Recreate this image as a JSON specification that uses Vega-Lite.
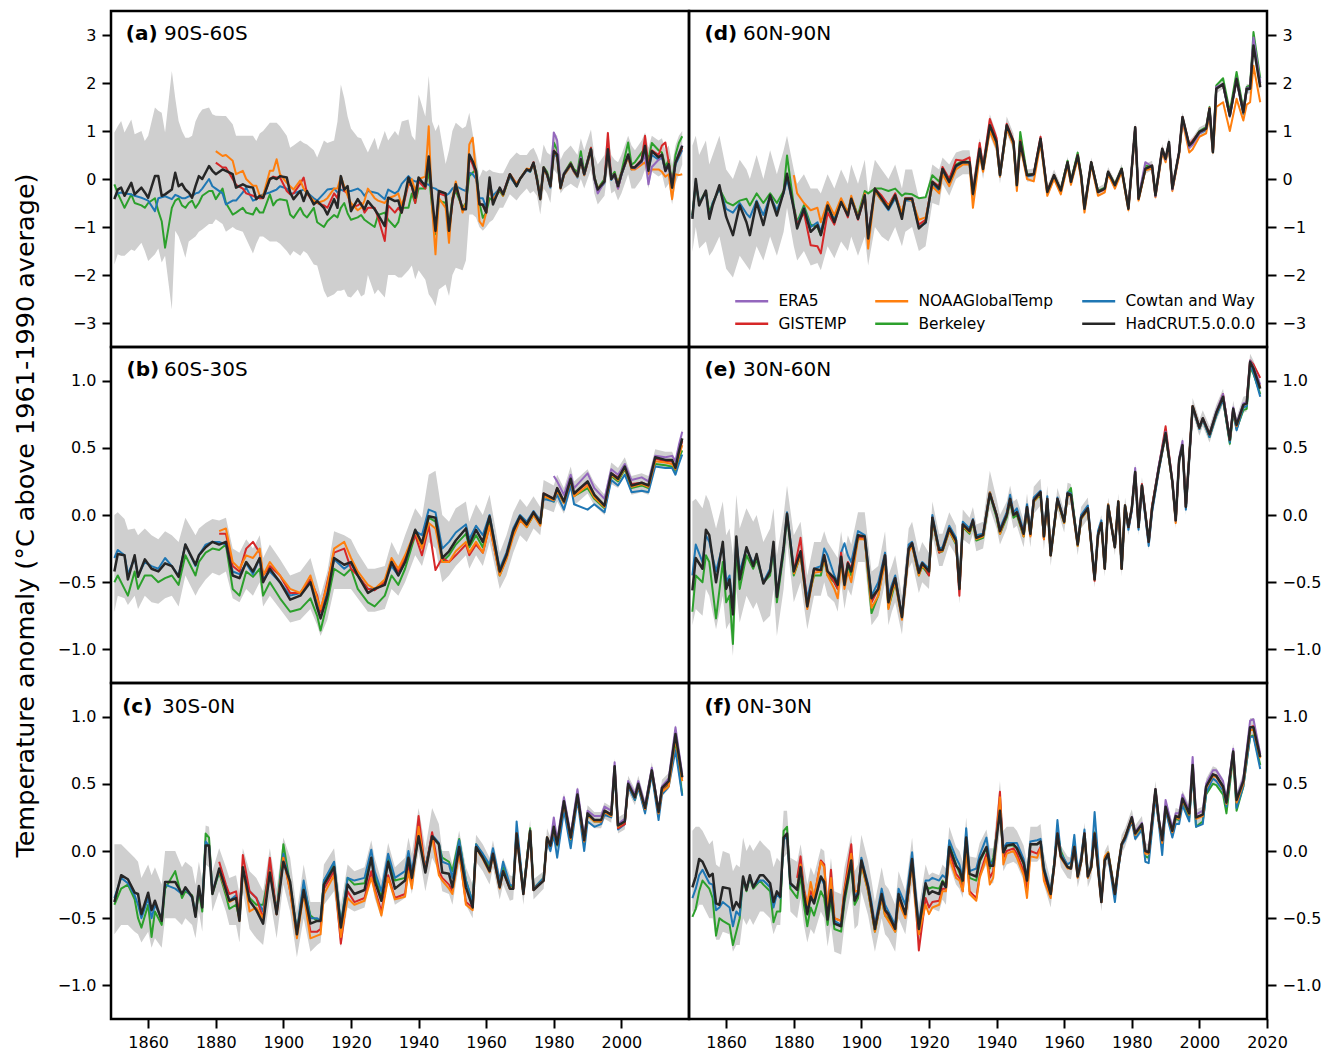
{
"$schema":"https://vega.github.io/schema/vega-lite/v6.json",
"background":"white",
"padding":{"left":11,"top":9,"right":5,"bottom":2},
"config":{"font":"DejaVu Sans","view":{"stroke":"black","strokeWidth":2.5},
"axis":{"domain":false,"grid":false,"tickColor":"black","tickWidth":2,"tickSize":9,"labelColor":"black","labelFontSize":16,"labelFont":"DejaVu Sans","labelPadding":6,"labelFlush":false,"labelOverlap":false,"titleColor":"black","titleFont":"DejaVu Sans"},
"area":{"color":"#cfcfcf"},"line":{"strokeJoin":"round"},
"text":{"font":"DejaVu Sans","align":"left","baseline":"alphabetic","fontSize":20,"color":"black"}},
"datasets":{
"a":[
{"y":1850,"B":-0.11,"C":-0.39,"H":-0.42,"l":-1.78,"u":0.97},
{"y":1851,"B":-0.3,"C":-0.3,"H":-0.22,"l":-1.57,"u":1.1},
{"y":1852,"B":-0.45,"C":-0.28,"H":-0.18,"l":-1.6,"u":1.21},
{"y":1853,"B":-0.6,"C":-0.3,"H":-0.35,"l":-1.6,"u":0.97},
{"y":1855,"B":-0.32,"C":-0.32,"H":-0.08,"l":-1.47,"u":1.24},
{"y":1856,"B":-0.5,"C":-0.35,"H":-0.32,"l":-1.5,"u":0.93},
{"y":1858,"B":-0.55,"C":-0.39,"H":-0.18,"l":-1.33,"u":1},
{"y":1859,"B":-0.6,"C":-0.42,"H":-0.28,"l":-1.5,"u":0.79},
{"y":1860,"B":-0.5,"C":-0.45,"H":-0.39,"l":-1.71,"u":0.9},
{"y":1862,"B":-0.4,"C":-0.67,"H":0.06,"l":-1.57,"u":1.49},
{"y":1863,"B":-0.67,"C":-0.4,"H":0.06,"l":-1.45,"u":1.42},
{"y":1864,"B":-0.88,"C":-0.38,"H":-0.35,"l":-1.74,"u":1.38},
{"y":1865,"B":-1.43,"C":-0.36,"H":-0.32,"l":-1.6,"u":0.97},
{"y":1867,"B":-0.6,"C":-0.42,"H":-0.22,"l":-2.72,"u":2.25},
{"y":1868,"B":-0.45,"C":-0.33,"H":0.13,"l":-1.08,"u":1.69},
{"y":1869,"B":-0.4,"C":-0.36,"H":-0.15,"l":-1.2,"u":1.21},
{"y":1870,"B":-0.55,"C":-0.4,"H":-0.1,"l":-1.4,"u":1},
{"y":1871,"B":-0.6,"C":-0.4,"H":-0.22,"l":-1.64,"u":0.86},
{"y":1872,"B":-0.5,"C":-0.36,"H":-0.28,"l":-1.3,"u":0.86},
{"y":1873,"B":-0.45,"C":-0.36,"H":-0.39,"l":-1.25,"u":0.9},
{"y":1874,"B":-0.6,"C":-0.3,"H":-0.15,"l":-1.2,"u":1.2},
{"y":1875,"B":-0.5,"C":-0.28,"H":0.06,"l":-1.1,"u":1.35},
{"y":1876,"B":-0.35,"C":-0.2,"H":0,"l":-1.05,"u":1.45},
{"y":1878,"B":-0.25,"C":0,"H":0.27,"l":-0.94,"u":1.49},
{"y":1879,"B":-0.25,"C":-0.15,"H":0.17,"l":-0.94,"u":1.35},
{"y":1880,"B":-0.42,"C":-0.2,"G":0.34,"N":0.58,"H":0.1,"l":-0.84,"u":1.32},
{"y":1882,"B":-0.2,"C":-0.3,"G":0.24,"N":0.48,"H":0.2,"l":-0.94,"u":1.31},
{"y":1883,"B":-0.5,"C":-0.53,"G":0.24,"N":0.5,"H":0.17,"l":-1.1,"u":1.31},
{"y":1885,"B":-0.74,"C":-0.45,"G":0,"N":0.38,"H":0.1,"l":-1,"u":1.14},
{"y":1886,"B":-0.7,"C":-0.45,"G":-0.12,"N":0.1,"H":-0.18,"l":-1.05,"u":0.9},
{"y":1888,"B":-0.6,"C":-0.28,"G":-0.2,"N":0.17,"H":-0.11,"l":-1.1,"u":0.9},
{"y":1889,"B":-0.7,"C":-0.18,"G":-0.3,"N":0,"H":-0.15,"l":-1.25,"u":0.9},
{"y":1891,"B":-0.74,"C":-0.45,"G":-0.35,"N":-0.14,"H":-0.18,"l":-1.55,"u":0.9},
{"y":1892,"B":-0.6,"C":-0.42,"G":-0.38,"N":-0.14,"H":-0.42,"l":-1.35,"u":0.79},
{"y":1893,"B":-0.7,"C":-0.35,"G":-0.4,"N":-0.35,"H":-0.35,"l":-1.2,"u":0.95},
{"y":1894,"B":-0.7,"C":-0.32,"G":-0.4,"N":-0.35,"H":-0.39,"l":-1.2,"u":1},
{"y":1896,"B":-0.32,"C":-0.28,"G":0,"N":0.17,"H":0,"l":-1.3,"u":1.17},
{"y":1897,"B":-0.55,"C":-0.25,"G":0.05,"N":0.17,"H":0.03,"l":-1.3,"u":1.17},
{"y":1898,"B":-0.45,"C":-0.22,"G":0.03,"N":0.41,"H":0,"l":-1.3,"u":1.17},
{"y":1899,"B":-0.42,"C":-0.15,"G":0.03,"N":0.1,"H":0.06,"l":-1.35,"u":1.1},
{"y":1901,"B":-0.45,"C":-0.2,"G":-0.25,"N":-0.08,"H":0.03,"l":-1.5,"u":0.9},
{"y":1902,"B":-0.74,"C":-0.3,"G":-0.32,"N":-0.15,"H":-0.28,"l":-1.6,"u":0.65},
{"y":1903,"B":-0.81,"C":-0.3,"G":-0.3,"N":-0.22,"H":-0.42,"l":-1.5,"u":0.7},
{"y":1905,"B":-0.6,"C":-0.25,"G":-0.1,"N":-0.03,"H":-0.25,"l":-1.6,"u":0.8},
{"y":1906,"B":-0.74,"C":-0.22,"G":0.03,"N":-0.2,"H":-0.46,"l":-1.5,"u":0.75},
{"y":1907,"B":-0.8,"C":-0.28,"G":-0.3,"N":-0.3,"H":-0.25,"l":-1.55,"u":0.72},
{"y":1909,"B":-0.6,"C":-0.4,"G":-0.5,"N":-0.45,"H":-0.53,"l":-1.78,"u":0.6},
{"y":1910,"B":-0.9,"C":-0.45,"G":-0.5,"N":-0.5,"H":-0.46,"l":-1.8,"u":0.45},
{"y":1912,"B":-1,"C":-0.3,"G":-0.55,"N":-0.45,"H":-0.6,"l":-2.33,"u":0.8},
{"y":1913,"B":-0.88,"C":-0.22,"G":-0.6,"N":-0.4,"H":-0.74,"l":-2.47,"u":0.75},
{"y":1915,"B":-0.75,"C":-0.2,"G":-0.3,"N":-0.2,"H":-0.42,"l":-2.4,"u":0.8},
{"y":1916,"B":-0.8,"C":-0.28,"G":-0.4,"N":-0.2,"H":-0.6,"l":-2.33,"u":1.2},
{"y":1917,"B":-0.6,"C":-0.22,"G":0,"N":0.05,"H":0.06,"l":-2.33,"u":1.97},
{"y":1918,"B":-0.5,"C":-0.25,"G":-0.25,"N":-0.15,"H":-0.22,"l":-2.3,"u":1.69},
{"y":1919,"B":-0.72,"C":-0.25,"G":-0.3,"N":-0.35,"H":-0.15,"l":-2.45,"u":1.3},
{"y":1920,"B":-0.85,"C":-0.25,"G":-0.6,"N":-0.5,"H":-0.67,"l":-2.47,"u":1.05},
{"y":1922,"B":-0.8,"C":-0.2,"G":-0.55,"N":-0.65,"H":-0.42,"l":-2.3,"u":0.87},
{"y":1923,"B":-0.75,"C":-0.25,"G":-0.5,"N":-0.6,"H":-0.53,"l":-2.45,"u":0.85},
{"y":1924,"B":-0.85,"C":-0.35,"G":-0.7,"N":-0.45,"H":-0.63,"l":-2.4,"u":0.7},
{"y":1925,"B":-0.9,"C":-0.25,"G":-0.6,"N":-0.2,"H":-0.46,"l":-2,"u":0.55},
{"y":1927,"B":-1,"C":-0.28,"G":-0.6,"N":-0.4,"H":-0.63,"l":-2.4,"u":0.86},
{"y":1928,"B":-0.75,"C":-0.3,"G":-0.8,"N":-0.45,"H":-0.74,"l":-2.3,"u":0.6},
{"y":1930,"B":-0.7,"C":-0.42,"G":-1.29,"N":-0.5,"H":-0.98,"l":-2.47,"u":1},
{"y":1931,"B":-0.85,"C":-0.22,"G":-0.55,"N":-0.4,"H":-0.39,"l":-2,"u":0.8},
{"y":1933,"B":-1,"C":-0.3,"G":-0.7,"N":-0.35,"H":-0.46,"l":-2,"u":1},
{"y":1934,"B":-0.9,"C":-0.25,"G":-0.6,"N":-0.3,"H":-0.45,"l":-2.05,"u":0.9},
{"y":1935,"B":-0.6,"C":-0.1,"G":-0.7,"N":-0.55,"H":-0.7,"l":-2.05,"u":1.2},
{"y":1937,"B":-0.6,"C":0.06,"G":-0.1,"N":-0.1,"H":0.03,"l":-1.9,"u":1.24},
{"y":1938,"B":-0.3,"C":-0.02,"G":-0.15,"N":0,"H":-0.15,"l":-1.8,"u":0.9},
{"y":1939,"B":-0.5,"C":-0.05,"G":-0.5,"N":-0.25,"H":-0.39,"l":-2.09,"u":0.8},
{"y":1940,"B":-0.2,"C":-0.05,"G":-0.05,"N":0,"H":0.03,"l":-1.9,"u":1.76},
{"y":1942,"B":-0.2,"C":-0.1,"G":-0.2,"N":0.05,"H":-0.15,"l":-2.1,"u":1.3},
{"y":1943,"B":0.17,"C":-0.12,"G":0.4,"N":1.1,"H":0.47,"l":-2.4,"u":2.15},
{"y":1944,"B":-0.6,"C":-0.18,"G":-0.45,"N":-0.6,"H":-0.39,"l":-2.5,"u":1.2},
{"y":1945,"B":-1.15,"C":-0.2,"G":-1.1,"N":-1.57,"H":-1.08,"l":-2.65,"u":1},
{"y":1946,"B":-0.45,"C":-0.25,"G":-0.3,"N":-0.4,"H":-0.25,"l":-2.3,"u":1.14},
{"y":1948,"B":-0.5,"C":-0.35,"G":-0.35,"N":-0.6,"H":-0.3,"l":-2.2,"u":0.31},
{"y":1949,"B":-1,"C":-0.3,"G":-1.1,"N":-1.33,"H":-1.08,"l":-2.44,"u":0.6},
{"y":1950,"B":-0.4,"C":-0.2,"G":-0.5,"N":-0.4,"H":-0.46,"l":-2,"u":1},
{"y":1951,"B":-0.25,"C":-0.15,"G":-0.15,"N":-0.05,"H":-0.11,"l":-1.85,"u":1.17},
{"y":1953,"B":-0.6,"C":-0.22,"G":-0.6,"N":-0.7,"H":-0.63,"l":-1.9,"u":1.05},
{"y":1954,"B":-0.5,"C":-0.25,"G":-0.6,"N":-0.5,"H":-0.63,"l":-1.7,"u":1.1},
{"y":1955,"B":0.06,"C":0.13,"G":0.45,"N":0.72,"H":0.51,"l":-0.74,"u":1.38},
{"y":1956,"B":0.13,"C":0.1,"G":0.3,"N":0.86,"H":0.37,"l":-0.74,"u":0.95},
{"y":1957,"B":0.2,"C":0,"G":0.1,"N":0.1,"H":0.17,"l":-0.8,"u":0.5},
{"y":1958,"B":-0.5,"C":-0.4,"G":-0.5,"N":-0.88,"H":-0.53,"l":-1,"u":0.03},
{"y":1959,"B":-0.81,"C":-0.4,"G":-0.55,"N":-0.98,"H":-0.53,"l":-1.08,"u":0.2},
{"y":1960,"B":-0.7,"C":-0.6,"G":-0.7,"N":-0.7,"H":-0.7,"l":-1,"u":0.15},
{"y":1961,"B":-0.4,"C":-0.1,"G":-0.05,"N":-0.1,"H":0.03,"l":-0.9,"u":0.2},
{"y":1962,"B":-0.45,"C":-0.35,"G":-0.5,"N":-0.45,"H":-0.53,"l":-0.85,"u":0.15},
{"y":1964,"B":-0.25,"C":-0.2,"G":-0.2,"N":-0.2,"H":-0.18,"l":-0.6,"u":0.12},
{"y":1965,"B":-0.35,"C":-0.3,"G":-0.3,"N":-0.35,"H":-0.32,"l":-0.6,"u":0.12},
{"y":1967,"B":0.08,"C":0.05,"G":0.1,"N":0.1,"H":0.1,"l":-0.32,"u":0.4},
{"y":1969,"B":-0.15,"C":-0.15,"G":-0.1,"N":-0.1,"H":-0.15,"l":-0.45,"u":0.55},
{"y":1970,"B":0,"C":0,"G":0,"N":0,"H":0,"l":-0.35,"u":0.5},
{"y":1972,"B":0.2,"C":0.18,"G":0.2,"N":0.22,"H":0.2,"l":-0.2,"u":0.5},
{"y":1973,"B":0.15,"C":0.15,"G":0.17,"N":0.2,"H":0.17,"l":-0.3,"u":0.6},
{"y":1974,"B":0.34,"C":0.32,"G":0.35,"N":0.3,"H":0.34,"l":-0.25,"u":0.65},
{"y":1975,"B":0.05,"C":0,"G":0,"N":0,"H":0,"l":-0.35,"u":0.5},
{"y":1976,"B":-0.4,"C":-0.4,"G":-0.4,"N":-0.42,"H":-0.42,"l":-0.74,"u":0.3},
{"y":1977,"B":0.25,"C":0.2,"G":0.24,"N":0.2,"H":0.24,"l":-0.2,"u":0.72},
{"y":1978,"B":0.15,"C":0.08,"G":0.1,"N":0.08,"H":0.1,"l":-0.3,"u":0.55},
{"y":1979,"E":-0.1,"B":-0.1,"C":-0.18,"G":-0.15,"N":-0.15,"H":-0.15,"l":-0.5,"u":0.5},
{"y":1980,"E":0.97,"B":0.76,"C":0.55,"G":0.6,"N":0.55,"H":0.58,"l":0.2,"u":0.97},
{"y":1981,"E":0.8,"B":0.6,"C":0.45,"G":0.5,"N":0.5,"H":0.51,"l":0.1,"u":0.9},
{"y":1982,"E":-0.15,"B":-0.15,"C":-0.2,"G":-0.18,"N":-0.2,"H":-0.18,"l":-0.3,"u":0.4},
{"y":1983,"E":0.12,"B":0.12,"C":0.08,"G":0.1,"N":0.08,"H":0.1,"l":-0.2,"u":0.55},
{"y":1985,"E":0.3,"B":0.35,"C":0.28,"G":0.32,"N":0.28,"H":0.31,"l":-0.1,"u":0.7},
{"y":1986,"E":0.15,"B":0.2,"C":0.15,"G":0.17,"N":0.14,"H":0.17,"l":-0.15,"u":0.6},
{"y":1987,"E":0.1,"B":0.15,"C":0.03,"G":0.1,"N":0.05,"H":0.06,"l":-0.2,"u":0.5},
{"y":1988,"E":0.45,"B":0.58,"C":0.38,"G":0.42,"N":0.38,"H":0.41,"l":0,"u":0.85},
{"y":1989,"E":0.1,"B":0.15,"C":0.08,"G":0.1,"N":0.08,"H":0.1,"l":-0.2,"u":0.6},
{"y":1991,"E":0.62,"B":0.65,"C":0.6,"G":0.65,"N":0.58,"H":0.62,"l":0.2,"u":1.03},
{"y":1992,"E":0,"B":0.05,"C":0,"G":0.03,"N":0,"H":0.03,"l":-0.3,"u":0.5},
{"y":1993,"E":-0.3,"B":-0.2,"C":-0.25,"G":-0.25,"N":-0.2,"H":-0.22,"l":-0.53,"u":0.3},
{"y":1995,"E":-0.05,"B":0,"C":-0.08,"G":-0.05,"N":-0.05,"H":-0.05,"l":-0.35,"u":0.5},
{"y":1996,"E":0.6,"B":0.6,"C":0.6,"G":0.96,"N":0.55,"H":0.62,"l":0.2,"u":1},
{"y":1997,"E":0.05,"B":0.05,"C":-0.02,"G":0,"N":0,"H":0,"l":-0.3,"u":0.5},
{"y":1998,"E":0.1,"B":0.15,"C":0.08,"G":0.1,"N":0.1,"H":0.1,"l":-0.25,"u":0.4},
{"y":1999,"E":-0.2,"B":-0.1,"C":-0.18,"G":-0.2,"N":-0.1,"H":-0.15,"l":-0.45,"u":0.35},
{"y":2000,"E":0.1,"B":0.15,"C":0.08,"G":0.1,"N":0.12,"H":0.1,"l":-0.3,"u":0.5},
{"y":2002,"E":0.5,"B":0.76,"C":0.48,"G":0.5,"N":0.45,"H":0.51,"l":0.1,"u":0.9},
{"y":2003,"E":0.25,"B":0.3,"C":0.2,"G":0.25,"N":0.2,"H":0.24,"l":-0.2,"u":0.7},
{"y":2004,"E":0.22,"B":0.35,"C":0.22,"G":0.25,"N":0.2,"H":0.24,"l":-0.2,"u":0.6},
{"y":2006,"E":0.35,"B":0.55,"C":0.35,"G":0.4,"N":0.3,"H":0.38,"l":0,"u":0.8},
{"y":2007,"E":0.5,"B":0.65,"C":0.6,"G":0.9,"N":0.35,"H":0.69,"l":0.2,"u":0.97},
{"y":2008,"E":-0.11,"B":0.4,"C":0.2,"G":0.25,"N":0.1,"H":0.17,"l":-0.2,"u":0.65},
{"y":2009,"E":0.25,"B":0.75,"C":0.5,"G":0.6,"N":0.2,"H":0.58,"l":0.15,"u":0.9},
{"y":2011,"E":0.4,"B":0.6,"C":0.4,"G":0.5,"N":0.2,"H":0.45,"l":0.05,"u":0.8},
{"y":2012,"E":0.5,"B":0.55,"C":0.45,"G":0.7,"N":0.15,"H":0.51,"l":0.1,"u":0.85},
{"y":2013,"E":0.15,"B":0.25,"C":0.2,"G":0.76,"N":0.05,"H":0.17,"l":-0.2,"u":0.6},
{"y":2014,"E":0.3,"B":0.4,"C":0.3,"G":0.35,"N":0.1,"H":0.31,"l":-0.1,"u":0.7},
{"y":2015,"E":-0.15,"B":-0.1,"C":-0.15,"G":-0.15,"N":-0.42,"H":-0.18,"l":-0.53,"u":0.3},
{"y":2016,"E":0.35,"B":0.5,"C":0.3,"G":0.35,"N":0.1,"H":0.34,"l":-0.1,"u":0.7},
{"y":2017,"E":0.55,"B":0.75,"C":0.45,"G":0.5,"N":0.08,"H":0.51,"l":0.1,"u":0.9},
{"y":2018,"E":0.7,"B":0.89,"C":0.6,"G":0.65,"N":0.1,"H":0.69,"l":0.3,"u":1}
],
"b":[
{"y":1850,"B":-0.5,"C":-0.32,"H":-0.42,"l":-0.72,"u":0},
{"y":1851,"B":-0.45,"C":-0.26,"H":-0.29,"l":-0.6,"u":0.02},
{"y":1853,"B":-0.55,"C":-0.3,"H":-0.3,"l":-0.62,"u":-0.03},
{"y":1854,"B":-0.6,"C":-0.44,"H":-0.48,"l":-0.67,"u":-0.11},
{"y":1856,"B":-0.42,"C":-0.32,"H":-0.3,"l":-0.6,"u":-0.1},
{"y":1857,"B":-0.55,"C":-0.45,"H":-0.46,"l":-0.7,"u":-0.15},
{"y":1859,"B":-0.45,"C":-0.35,"H":-0.33,"l":-0.6,"u":-0.1},
{"y":1861,"B":-0.45,"C":-0.38,"H":-0.4,"l":-0.65,"u":-0.15},
{"y":1863,"B":-0.5,"C":-0.4,"H":-0.42,"l":-0.66,"u":-0.18},
{"y":1865,"B":-0.47,"C":-0.32,"H":-0.36,"l":-0.62,"u":-0.12},
{"y":1867,"B":-0.45,"C":-0.38,"H":-0.38,"l":-0.6,"u":-0.15},
{"y":1869,"B":-0.52,"C":-0.45,"H":-0.46,"l":-0.68,"u":-0.2},
{"y":1871,"B":-0.3,"C":-0.22,"H":-0.22,"l":-0.45,"u":-0.02},
{"y":1874,"B":-0.45,"C":-0.38,"H":-0.37,"l":-0.6,"u":-0.15},
{"y":1875,"B":-0.35,"C":-0.3,"H":-0.3,"l":-0.55,"u":-0.1},
{"y":1877,"B":-0.28,"C":-0.22,"H":-0.24,"l":-0.48,"u":-0.06},
{"y":1879,"B":-0.25,"C":-0.2,"H":-0.2,"l":-0.43,"u":-0.03},
{"y":1881,"B":-0.26,"C":-0.2,"N":-0.12,"G":-0.14,"H":-0.22,"l":-0.45,"u":-0.04},
{"y":1883,"B":-0.22,"C":-0.22,"N":-0.1,"G":-0.14,"H":-0.2,"l":-0.42,"u":-0.02},
{"y":1885,"B":-0.55,"C":-0.42,"N":-0.35,"G":-0.38,"H":-0.45,"l":-0.62,"u":-0.25},
{"y":1887,"B":-0.6,"C":-0.44,"N":-0.4,"G":-0.42,"H":-0.47,"l":-0.65,"u":-0.28},
{"y":1889,"B":-0.42,"C":-0.36,"N":-0.3,"G":-0.25,"H":-0.35,"l":-0.55,"u":-0.18},
{"y":1891,"B":-0.46,"C":-0.44,"N":-0.32,"G":-0.2,"H":-0.42,"l":-0.6,"u":-0.25},
{"y":1893,"B":-0.4,"C":-0.32,"N":-0.25,"G":-0.28,"H":-0.32,"l":-0.5,"u":-0.15},
{"y":1894,"B":-0.6,"C":-0.48,"N":-0.45,"G":-0.45,"H":-0.5,"l":-0.68,"u":-0.32},
{"y":1896,"B":-0.5,"C":-0.42,"N":-0.35,"G":-0.38,"H":-0.4,"l":-0.6,"u":-0.22},
{"y":1899,"B":-0.62,"C":-0.5,"N":-0.45,"G":-0.45,"H":-0.5,"l":-0.7,"u":-0.33},
{"y":1902,"B":-0.72,"C":-0.6,"N":-0.55,"G":-0.58,"H":-0.63,"l":-0.8,"u":-0.45},
{"y":1905,"B":-0.7,"C":-0.58,"N":-0.58,"G":-0.58,"H":-0.6,"l":-0.78,"u":-0.42},
{"y":1908,"B":-0.62,"C":-0.48,"N":-0.45,"G":-0.48,"H":-0.5,"l":-0.7,"u":-0.32},
{"y":1910,"B":-0.75,"C":-0.66,"N":-0.62,"G":-0.6,"H":-0.69,"l":-0.82,"u":-0.5},
{"y":1911,"B":-0.86,"C":-0.72,"N":-0.7,"G":-0.72,"H":-0.77,"l":-0.9,"u":-0.6},
{"y":1913,"B":-0.65,"C":-0.58,"N":-0.52,"G":-0.5,"H":-0.6,"l":-0.78,"u":-0.42},
{"y":1915,"B":-0.4,"C":-0.33,"N":-0.25,"G":-0.28,"H":-0.32,"l":-0.55,"u":-0.12},
{"y":1918,"B":-0.45,"C":-0.4,"N":-0.2,"G":-0.25,"H":-0.37,"l":-0.55,"u":-0.15},
{"y":1920,"B":-0.4,"C":-0.36,"N":-0.32,"G":-0.4,"H":-0.35,"l":-0.55,"u":-0.18},
{"y":1922,"B":-0.55,"C":-0.45,"N":-0.42,"G":-0.45,"H":-0.45,"l":-0.62,"u":-0.28},
{"y":1925,"B":-0.65,"C":-0.55,"N":-0.52,"G":-0.55,"H":-0.58,"l":-0.72,"u":-0.4},
{"y":1927,"B":-0.68,"C":-0.55,"N":-0.55,"G":-0.56,"H":-0.55,"l":-0.72,"u":-0.4},
{"y":1930,"B":-0.6,"C":-0.5,"N":-0.48,"G":-0.5,"H":-0.52,"l":-0.7,"u":-0.38},
{"y":1932,"B":-0.45,"C":-0.38,"N":-0.32,"G":-0.35,"H":-0.35,"l":-0.55,"u":-0.2},
{"y":1934,"B":-0.52,"C":-0.45,"N":-0.4,"G":-0.42,"H":-0.45,"l":-0.6,"u":-0.3},
{"y":1936,"B":-0.4,"C":-0.35,"N":-0.3,"G":-0.32,"H":-0.35,"l":-0.5,"u":-0.15},
{"y":1939,"B":-0.15,"C":-0.12,"N":-0.12,"G":-0.15,"H":-0.11,"l":-0.3,"u":0.05},
{"y":1941,"B":-0.22,"C":-0.15,"N":-0.25,"G":-0.3,"H":-0.21,"l":-0.38,"u":-0.02},
{"y":1943,"B":-0.02,"C":0.04,"N":-0.06,"G":-0.08,"H":-0.01,"l":-0.2,"u":0.3},
{"y":1945,"B":-0.05,"C":0.02,"N":-0.1,"G":-0.41,"H":-0.02,"l":-0.25,"u":0.33},
{"y":1947,"B":-0.35,"C":-0.25,"N":-0.35,"G":-0.32,"H":-0.32,"l":-0.5,"u":0},
{"y":1949,"B":-0.3,"C":-0.2,"N":-0.35,"G":-0.35,"H":-0.27,"l":-0.45,"u":-0.05},
{"y":1951,"B":-0.22,"C":-0.13,"N":-0.27,"G":-0.3,"H":-0.19,"l":-0.38,"u":0.05},
{"y":1954,"B":-0.14,"C":-0.07,"N":-0.2,"G":-0.22,"H":-0.1,"l":-0.3,"u":0.1},
{"y":1955,"B":-0.24,"C":-0.18,"N":-0.28,"G":-0.3,"H":-0.22,"l":-0.4,"u":-0.05},
{"y":1957,"B":-0.15,"C":-0.08,"N":-0.2,"G":-0.22,"H":-0.11,"l":-0.3,"u":0.08},
{"y":1959,"B":-0.24,"C":-0.15,"N":-0.28,"G":-0.28,"H":-0.2,"l":-0.38,"u":0},
{"y":1961,"B":-0.04,"C":0,"N":-0.08,"G":-0.08,"H":-0.01,"l":-0.2,"u":0.15},
{"y":1964,"B":-0.45,"C":-0.4,"N":-0.45,"G":-0.44,"H":-0.42,"l":-0.55,"u":-0.28},
{"y":1966,"B":-0.32,"C":-0.28,"N":-0.33,"G":-0.3,"H":-0.3,"l":-0.45,"u":-0.15},
{"y":1968,"B":-0.14,"C":-0.1,"N":-0.16,"G":-0.12,"H":-0.12,"l":-0.28,"u":0.02},
{"y":1970,"B":-0.03,"C":0,"N":-0.04,"G":-0.02,"H":-0.01,"l":-0.15,"u":0.12},
{"y":1972,"B":-0.09,"C":-0.05,"N":-0.09,"G":-0.07,"H":-0.07,"l":-0.2,"u":0.06},
{"y":1974,"B":0,"C":0.03,"N":0,"G":0.02,"H":0.02,"l":-0.1,"u":0.14},
{"y":1976,"B":-0.07,"C":-0.04,"N":-0.08,"G":-0.06,"H":-0.06,"l":-0.15,"u":0.06},
{"y":1977,"B":0.14,"C":0.12,"N":0.14,"G":0.16,"H":0.16,"l":0.05,"u":0.26},
{"y":1980,"E":0.29,"B":0.1,"C":0.1,"N":0.11,"G":0.12,"H":0.12,"l":0.02,"u":0.22},
{"y":1981,"E":0.25,"B":0.18,"C":0.15,"N":0.18,"G":0.2,"H":0.2,"l":0.1,"u":0.3},
{"y":1983,"E":0.15,"B":0.09,"C":0.04,"N":0.09,"G":0.1,"H":0.1,"l":0.01,"u":0.2},
{"y":1985,"E":0.3,"B":0.25,"C":0.22,"N":0.26,"G":0.27,"H":0.27,"l":0.18,"u":0.36},
{"y":1986,"E":0.2,"B":0.14,"C":0.08,"N":0.14,"G":0.16,"H":0.16,"l":0.07,"u":0.25},
{"y":1990,"E":0.31,"B":0.2,"C":0.04,"N":0.22,"G":0.24,"H":0.25,"l":0.16,"u":0.34},
{"y":1992,"E":0.2,"B":0.12,"C":0.08,"N":0.13,"G":0.15,"H":0.15,"l":0.07,"u":0.24},
{"y":1995,"E":0.12,"B":0.05,"C":0.02,"N":0.06,"G":0.07,"H":0.07,"l":0,"u":0.15},
{"y":1997,"E":0.34,"B":0.29,"C":0.26,"N":0.3,"G":0.31,"H":0.31,"l":0.23,"u":0.39},
{"y":1999,"E":0.3,"B":0.25,"C":0.22,"N":0.26,"G":0.28,"H":0.27,"l":0.2,"u":0.35},
{"y":2001,"E":0.38,"B":0.34,"C":0.3,"N":0.35,"G":0.36,"H":0.36,"l":0.29,"u":0.43},
{"y":2003,"E":0.26,"B":0.2,"C":0.17,"N":0.21,"G":0.23,"H":0.22,"l":0.15,"u":0.29},
{"y":2006,"E":0.28,"B":0.22,"C":0.18,"N":0.23,"G":0.24,"H":0.24,"l":0.17,"u":0.31},
{"y":2008,"E":0.25,"B":0.2,"C":0.17,"N":0.21,"G":0.22,"H":0.22,"l":0.15,"u":0.29},
{"y":2010,"E":0.44,"B":0.38,"C":0.36,"N":0.4,"G":0.42,"H":0.43,"l":0.37,"u":0.49},
{"y":2013,"E":0.43,"B":0.37,"C":0.35,"N":0.39,"G":0.4,"H":0.41,"l":0.35,"u":0.47},
{"y":2015,"E":0.44,"B":0.36,"C":0.35,"N":0.38,"G":0.4,"H":0.41,"l":0.35,"u":0.47},
{"y":2016,"E":0.4,"B":0.33,"C":0.3,"N":0.34,"G":0.35,"H":0.35,"l":0.3,"u":0.41},
{"y":2017,"E":0.52,"B":0.42,"C":0.38,"N":0.44,"G":0.46,"H":0.47,"l":0.41,"u":0.53},
{"y":2018,"E":0.62,"B":0.48,"C":0.45,"N":0.52,"G":0.55,"H":0.57,"l":0.5,"u":0.64}
],
"c":[
{"y":1850,"B":-0.4,"C":-0.35,"H":-0.38,"l":-0.62,"u":0.05},
{"y":1852,"B":-0.28,"C":-0.2,"H":-0.18,"l":-0.55,"u":0.05},
{"y":1854,"B":-0.25,"C":-0.24,"H":-0.21,"l":-0.55,"u":0},
{"y":1856,"B":-0.36,"C":-0.33,"H":-0.31,"l":-0.6,"u":-0.05},
{"y":1857,"B":-0.5,"C":-0.4,"H":-0.32,"l":-0.62,"u":-0.08},
{"y":1858,"B":-0.57,"C":-0.5,"H":-0.47,"l":-0.68,"u":-0.2},
{"y":1860,"B":-0.4,"C":-0.35,"H":-0.31,"l":-0.6,"u":-0.1},
{"y":1861,"B":-0.64,"C":-0.5,"H":-0.44,"l":-0.72,"u":-0.18},
{"y":1862,"B":-0.45,"C":-0.4,"H":-0.37,"l":-0.65,"u":-0.12},
{"y":1864,"B":-0.55,"C":-0.5,"H":-0.52,"l":-0.72,"u":-0.25},
{"y":1865,"B":-0.28,"C":-0.25,"H":-0.23,"l":-0.5,"u":0},
{"y":1868,"B":-0.15,"C":-0.28,"H":-0.23,"l":-0.5,"u":0},
{"y":1870,"B":-0.35,"C":-0.32,"H":-0.32,"l":-0.55,"u":-0.12},
{"y":1871,"B":-0.3,"C":-0.28,"H":-0.27,"l":-0.5,"u":-0.08},
{"y":1873,"B":-0.33,"C":-0.35,"H":-0.34,"l":-0.55,"u":-0.12},
{"y":1874,"B":-0.48,"C":-0.47,"H":-0.49,"l":-0.65,"u":-0.25},
{"y":1875,"B":-0.3,"C":-0.27,"H":-0.26,"l":-0.45,"u":-0.08},
{"y":1876,"B":-0.45,"C":-0.4,"H":-0.42,"l":-0.6,"u":-0.22},
{"y":1877,"B":0.13,"C":0.07,"H":0.04,"l":-0.1,"u":0.19},
{"y":1878,"B":0.1,"C":0.04,"H":0.04,"l":-0.12,"u":0.18},
{"y":1879,"B":-0.32,"C":-0.3,"H":-0.32,"l":-0.45,"u":-0.15},
{"y":1881,"B":-0.16,"C":-0.15,"N":-0.15,"G":-0.08,"H":-0.13,"l":-0.3,"u":0.02},
{"y":1883,"B":-0.33,"C":-0.3,"N":-0.3,"G":-0.25,"H":-0.29,"l":-0.45,"u":-0.12},
{"y":1884,"B":-0.43,"C":-0.37,"N":-0.38,"G":-0.32,"H":-0.37,"l":-0.55,"u":-0.2},
{"y":1886,"B":-0.4,"C":-0.33,"N":-0.35,"G":-0.3,"H":-0.35,"l":-0.55,"u":-0.18},
{"y":1887,"B":-0.5,"C":-0.5,"N":-0.52,"G":-0.48,"H":-0.52,"l":-0.68,"u":-0.32},
{"y":1888,"B":-0.15,"C":-0.15,"N":-0.12,"G":-0.03,"H":-0.12,"l":-0.3,"u":0.02},
{"y":1890,"B":-0.35,"C":-0.3,"N":-0.45,"G":-0.3,"H":-0.37,"l":-0.58,"u":-0.15},
{"y":1892,"B":-0.4,"C":-0.35,"N":-0.42,"G":-0.35,"H":-0.44,"l":-0.65,"u":-0.2},
{"y":1894,"B":-0.4,"C":-0.45,"N":-0.5,"G":-0.5,"H":-0.54,"l":-0.7,"u":-0.3},
{"y":1896,"B":-0.12,"C":-0.12,"N":-0.15,"G":-0.05,"H":-0.16,"l":-0.35,"u":0.02},
{"y":1898,"B":-0.45,"C":-0.45,"N":-0.47,"G":-0.47,"H":-0.47,"l":-0.65,"u":-0.28},
{"y":1900,"B":0.05,"C":-0.02,"N":-0.05,"G":-0.05,"H":-0.08,"l":-0.25,"u":0.1},
{"y":1902,"B":-0.25,"C":-0.25,"N":-0.3,"G":-0.3,"H":-0.23,"l":-0.45,"u":-0.05},
{"y":1904,"B":-0.6,"C":-0.6,"N":-0.65,"G":-0.62,"H":-0.62,"l":-0.79,"u":-0.45},
{"y":1906,"B":-0.25,"C":-0.22,"N":-0.32,"G":-0.3,"H":-0.29,"l":-0.5,"u":-0.1},
{"y":1908,"B":-0.48,"C":-0.5,"N":-0.65,"G":-0.6,"H":-0.54,"l":-0.75,"u":-0.38},
{"y":1910,"B":-0.52,"C":-0.5,"N":-0.63,"G":-0.6,"H":-0.52,"l":-0.7,"u":-0.38},
{"y":1911,"B":-0.52,"C":-0.52,"N":-0.62,"G":-0.58,"H":-0.52,"l":-0.68,"u":-0.38},
{"y":1912,"B":-0.22,"C":-0.22,"N":-0.32,"G":-0.28,"H":-0.25,"l":-0.4,"u":-0.1},
{"y":1915,"B":-0.1,"C":-0.08,"N":-0.18,"G":-0.15,"H":-0.12,"l":-0.3,"u":0.02},
{"y":1917,"B":-0.55,"C":-0.55,"N":-0.64,"G":-0.69,"H":-0.57,"l":-0.72,"u":-0.4},
{"y":1919,"B":-0.2,"C":-0.2,"N":-0.35,"G":-0.3,"H":-0.25,"l":-0.42,"u":-0.1},
{"y":1921,"B":-0.25,"C":-0.22,"N":-0.4,"G":-0.38,"H":-0.32,"l":-0.45,"u":-0.15},
{"y":1924,"B":-0.24,"C":-0.2,"N":-0.37,"G":-0.35,"H":-0.29,"l":-0.42,"u":-0.12},
{"y":1926,"B":-0.05,"C":0.01,"N":-0.2,"G":-0.15,"H":-0.05,"l":-0.2,"u":0.08},
{"y":1927,"B":-0.18,"C":-0.15,"N":-0.3,"G":-0.28,"H":-0.22,"l":-0.35,"u":-0.05},
{"y":1929,"B":-0.35,"C":-0.3,"N":-0.48,"G":-0.45,"H":-0.37,"l":-0.5,"u":-0.22},
{"y":1931,"B":-0.05,"C":-0.02,"N":-0.2,"G":-0.18,"H":-0.08,"l":-0.22,"u":0.06},
{"y":1933,"B":-0.22,"C":-0.2,"N":-0.36,"G":-0.35,"H":-0.28,"l":-0.4,"u":-0.12},
{"y":1936,"B":-0.2,"C":-0.15,"N":-0.34,"G":-0.32,"H":-0.22,"l":-0.35,"u":-0.05},
{"y":1937,"B":-0.02,"C":0,"N":-0.15,"G":-0.12,"H":-0.05,"l":-0.18,"u":0.1},
{"y":1938,"B":-0.2,"C":-0.15,"N":-0.28,"G":-0.25,"H":-0.2,"l":-0.32,"u":-0.02},
{"y":1940,"B":0.12,"C":0.14,"N":0.18,"G":0.26,"H":0.11,"l":0,"u":0.32},
{"y":1942,"B":-0.12,"C":-0.12,"N":-0.15,"G":-0.15,"H":-0.16,"l":-0.3,"u":0.02},
{"y":1944,"B":0.1,"C":0.12,"N":0.1,"G":0.14,"H":0.11,"l":-0.05,"u":0.32},
{"y":1946,"B":0.05,"C":0.06,"N":-0.18,"G":-0.15,"H":0.05,"l":-0.15,"u":0.2},
{"y":1947,"B":-0.05,"C":-0.08,"N":-0.22,"G":-0.2,"H":-0.16,"l":-0.3,"u":0},
{"y":1949,"B":-0.08,"C":-0.1,"N":-0.28,"G":-0.25,"H":-0.17,"l":-0.32,"u":0},
{"y":1950,"B":-0.15,"C":-0.2,"N":-0.32,"G":-0.3,"H":-0.27,"l":-0.4,"u":-0.1},
{"y":1952,"B":0.09,"C":0.08,"N":0,"G":0,"H":0.03,"l":-0.1,"u":0.15},
{"y":1954,"B":-0.22,"C":-0.22,"N":-0.4,"G":-0.38,"H":-0.27,"l":-0.4,"u":-0.12},
{"y":1956,"B":-0.38,"C":-0.38,"N":-0.44,"G":-0.42,"H":-0.42,"l":-0.5,"u":-0.25},
{"y":1957,"B":0.05,"C":0.05,"N":0.02,"G":0.03,"H":0.03,"l":-0.08,"u":0.12},
{"y":1959,"B":-0.03,"C":-0.02,"N":-0.06,"G":-0.05,"H":-0.05,"l":-0.15,"u":0.05},
{"y":1961,"B":-0.12,"C":-0.1,"N":-0.16,"G":-0.15,"H":-0.15,"l":-0.25,"u":-0.05},
{"y":1962,"B":0,"C":0.02,"N":-0.03,"G":-0.02,"H":-0.02,"l":-0.12,"u":0.08},
{"y":1964,"B":-0.25,"C":-0.22,"N":-0.28,"G":-0.27,"H":-0.27,"l":-0.36,"u":-0.17},
{"y":1965,"B":-0.12,"C":-0.08,"N":-0.15,"G":-0.15,"H":-0.15,"l":-0.25,"u":-0.05},
{"y":1967,"B":-0.26,"C":-0.25,"N":-0.28,"G":-0.28,"H":-0.28,"l":-0.37,"u":-0.18},
{"y":1968,"B":-0.26,"C":-0.26,"N":-0.28,"G":-0.28,"H":-0.28,"l":-0.36,"u":-0.19},
{"y":1969,"B":0.14,"C":0.22,"N":0.13,"G":0.13,"H":0.13,"l":0.04,"u":0.22},
{"y":1971,"B":-0.3,"C":-0.3,"N":-0.32,"G":-0.32,"H":-0.32,"l":-0.4,"u":-0.23},
{"y":1973,"B":0.17,"C":0.15,"N":0.15,"G":0.15,"H":0.15,"l":0.07,"u":0.23},
{"y":1974,"B":-0.28,"C":-0.28,"N":-0.29,"G":-0.29,"H":-0.29,"l":-0.36,"u":-0.21},
{"y":1977,"B":-0.2,"C":-0.2,"N":-0.22,"G":-0.22,"H":-0.22,"l":-0.28,"u":-0.15},
{"y":1978,"B":0.1,"C":0.08,"N":0.1,"G":0.1,"H":0.1,"l":0.03,"u":0.17},
{"y":1979,"E":0.06,"B":0.04,"C":0,"N":0.04,"G":0.04,"H":0.04,"l":-0.02,"u":0.1},
{"y":1980,"E":0.25,"B":0.16,"C":0.12,"N":0.17,"G":0.18,"H":0.18,"l":0.12,"u":0.25},
{"y":1981,"E":0.08,"B":0.04,"C":-0.05,"N":0.05,"G":0.05,"H":0.05,"l":-0.01,"u":0.11},
{"y":1983,"E":0.4,"B":0.36,"C":0.3,"N":0.36,"G":0.37,"H":0.37,"l":0.31,"u":0.43},
{"y":1985,"E":0.12,"B":0.08,"C":0.02,"N":0.09,"G":0.1,"H":0.1,"l":0.04,"u":0.16},
{"y":1987,"E":0.46,"B":0.41,"C":0.38,"N":0.41,"G":0.42,"H":0.42,"l":0.36,"u":0.48},
{"y":1989,"E":0.1,"B":0.06,"C":0,"N":0.07,"G":0.08,"H":0.08,"l":0.02,"u":0.14},
{"y":1990,"E":0.3,"B":0.27,"C":0.22,"N":0.27,"G":0.28,"H":0.28,"l":0.22,"u":0.34},
{"y":1992,"E":0.26,"B":0.22,"C":0.18,"N":0.22,"G":0.23,"H":0.23,"l":0.17,"u":0.29},
{"y":1994,"E":0.26,"B":0.22,"C":0.2,"N":0.22,"G":0.22,"H":0.23,"l":0.17,"u":0.29},
{"y":1995,"E":0.33,"B":0.29,"C":0.27,"N":0.29,"G":0.3,"H":0.3,"l":0.24,"u":0.36},
{"y":1997,"E":0.3,"B":0.26,"C":0.25,"N":0.26,"G":0.27,"H":0.27,"l":0.21,"u":0.33},
{"y":1998,"E":0.66,"B":0.62,"C":0.6,"N":0.62,"G":0.63,"H":0.63,"l":0.57,"u":0.69},
{"y":1999,"E":0.2,"B":0.18,"C":0.16,"N":0.18,"G":0.17,"H":0.19,"l":0.13,"u":0.25},
{"y":2001,"E":0.24,"B":0.21,"C":0.2,"N":0.22,"G":0.2,"H":0.22,"l":0.16,"u":0.28},
{"y":2002,"E":0.52,"B":0.49,"C":0.48,"N":0.5,"G":0.5,"H":0.5,"l":0.44,"u":0.56},
{"y":2004,"E":0.42,"B":0.38,"C":0.38,"N":0.4,"G":0.4,"H":0.4,"l":0.34,"u":0.46},
{"y":2005,"E":0.52,"B":0.48,"C":0.47,"N":0.49,"G":0.5,"H":0.5,"l":0.44,"u":0.56},
{"y":2007,"E":0.34,"B":0.3,"C":0.28,"N":0.31,"G":0.32,"H":0.32,"l":0.26,"u":0.38},
{"y":2009,"E":0.62,"B":0.58,"C":0.57,"N":0.6,"G":0.6,"H":0.6,"l":0.54,"u":0.66},
{"y":2011,"E":0.3,"B":0.27,"C":0.23,"N":0.28,"G":0.29,"H":0.29,"l":0.23,"u":0.35},
{"y":2012,"E":0.48,"B":0.45,"C":0.42,"N":0.44,"G":0.46,"H":0.47,"l":0.41,"u":0.53},
{"y":2014,"E":0.54,"B":0.5,"C":0.48,"N":0.48,"G":0.51,"H":0.52,"l":0.46,"u":0.58},
{"y":2016,"E":0.92,"B":0.82,"C":0.75,"N":0.84,"G":0.86,"H":0.87,"l":0.8,"u":0.94},
{"y":2018,"E":0.57,"B":0.42,"C":0.41,"N":0.52,"G":0.54,"H":0.55,"l":0.48,"u":0.62}
],
"d":[
{"y":1850,"B":-0.75,"C":-0.8,"H":-0.83,"l":-1.52,"u":0.7},
{"y":1851,"B":-0.1,"C":-0.05,"H":0,"l":-1,"u":0.9},
{"y":1852,"B":-0.5,"C":-0.5,"H":-0.55,"l":-1.45,"u":0.5},
{"y":1854,"B":-0.25,"C":-0.28,"H":-0.24,"l":-1.3,"u":0.8},
{"y":1855,"B":-0.7,"C":-0.8,"H":-0.83,"l":-1.6,"u":0.3},
{"y":1856,"B":-0.5,"C":-0.5,"H":-0.55,"l":-1.5,"u":0.5},
{"y":1858,"B":-0.2,"C":-0.2,"H":-0.13,"l":-1.2,"u":0.9},
{"y":1860,"B":-0.48,"C":-0.62,"H":-0.79,"l":-1.87,"u":0.2},
{"y":1862,"B":-0.55,"C":-0.7,"H":-1.17,"l":-2.05,"u":0},
{"y":1864,"B":-0.45,"C":-0.5,"H":-0.55,"l":-1.6,"u":0.4},
{"y":1866,"B":-0.41,"C":-0.72,"H":-0.9,"l":-1.8,"u":0.2},
{"y":1867,"B":-0.55,"C":-0.8,"H":-1.17,"l":-1.9,"u":0},
{"y":1869,"B":-0.3,"C":-0.45,"H":-0.48,"l":-1.4,"u":0.5},
{"y":1871,"B":-0.5,"C":-0.75,"H":-0.96,"l":-1.7,"u":0},
{"y":1873,"B":-0.3,"C":-0.35,"H":-0.34,"l":-1.2,"u":0.6},
{"y":1875,"B":-0.5,"C":-0.65,"H":-0.76,"l":-1.6,"u":0.1},
{"y":1877,"B":-0.25,"C":-0.3,"H":-0.27,"l":-1.1,"u":0.6},
{"y":1878,"B":0.49,"C":0,"H":0.11,"l":-0.6,"u":0.9},
{"y":1880,"B":-0.55,"C":-0.6,"N":0.08,"G":-0.6,"H":-0.62,"l":-1.4,"u":0.2},
{"y":1881,"B":-0.9,"C":-0.95,"N":-0.3,"G":-0.95,"H":-1.03,"l":-1.7,"u":-0.1},
{"y":1883,"B":-0.55,"C":-0.6,"N":-0.5,"G":-0.7,"H":-0.62,"l":-1.5,"u":0.1},
{"y":1885,"B":-0.95,"C":-1,"N":-0.65,"G":-1.38,"H":-1.1,"l":-1.8,"u":-0.2},
{"y":1887,"B":-1,"C":-0.9,"N":-0.6,"G":-1.4,"H":-0.96,"l":-1.75,"u":-0.2},
{"y":1888,"B":-1.17,"C":-1.1,"N":-0.9,"G":-1.55,"H":-1.17,"l":-1.9,"u":-0.3},
{"y":1890,"B":-0.6,"C":-0.55,"N":-0.48,"G":-0.7,"H":-0.55,"l":-1.4,"u":0.1},
{"y":1892,"B":-0.85,"C":-0.85,"N":-0.75,"G":-0.95,"H":-0.9,"l":-1.65,"u":-0.2},
{"y":1894,"B":-0.45,"C":-0.5,"N":-0.4,"G":-0.45,"H":-0.48,"l":-1.3,"u":0.2},
{"y":1896,"B":-0.7,"C":-0.7,"N":-0.7,"G":-0.8,"H":-0.76,"l":-1.5,"u":-0.1},
{"y":1897,"B":-0.4,"C":-0.42,"N":-0.35,"G":-0.4,"H":-0.41,"l":-1.2,"u":0.3},
{"y":1899,"B":-0.75,"C":-0.8,"N":-0.8,"G":-0.85,"H":-0.83,"l":-1.6,"u":-0.1},
{"y":1901,"B":-0.25,"C":-0.35,"N":-0.3,"G":-0.35,"H":-0.34,"l":-1.2,"u":0.4},
{"y":1902,"B":-0.3,"C":-1.15,"N":-1.45,"G":-1.2,"H":-1.24,"l":-1.8,"u":-0.3},
{"y":1904,"B":-0.2,"C":-0.25,"N":-0.25,"G":-0.2,"H":-0.2,"l":-1,"u":0.4},
{"y":1906,"B":-0.2,"C":-0.45,"N":-0.45,"G":-0.35,"H":-0.41,"l":-1.2,"u":0.2},
{"y":1908,"B":-0.25,"C":-0.65,"N":-0.55,"G":-0.55,"H":-0.62,"l":-1.3,"u":0},
{"y":1910,"B":-0.2,"C":-0.4,"N":-0.35,"G":-0.3,"H":-0.34,"l":-1,"u":0.3},
{"y":1912,"B":-0.35,"C":-0.75,"N":-0.7,"G":-0.75,"H":-0.83,"l":-1.4,"u":-0.2},
{"y":1913,"B":-0.3,"C":-0.45,"N":-0.4,"G":-0.4,"H":-0.41,"l":-1.1,"u":0.2},
{"y":1915,"B":-0.32,"C":-0.45,"N":-0.45,"G":-0.4,"H":-0.41,"l":-1,"u":0.2},
{"y":1917,"B":-0.4,"C":-1,"N":-0.85,"G":-0.95,"H":-1.03,"l":-1.5,"u":-0.4},
{"y":1919,"B":-0.38,"C":-0.92,"N":-0.8,"G":-0.85,"H":-0.9,"l":-1.4,"u":-0.4},
{"y":1921,"B":0.08,"C":-0.1,"N":-0.15,"G":-0.05,"H":-0.06,"l":-0.5,"u":0.3},
{"y":1923,"B":-0.05,"C":-0.25,"N":-0.3,"G":-0.15,"H":-0.2,"l":-0.55,"u":0.2},
{"y":1924,"B":0.2,"C":0.15,"N":0.1,"G":0.25,"H":0.21,"l":-0.1,"u":0.45},
{"y":1926,"B":0,"C":-0.1,"N":-0.15,"G":0,"H":-0.06,"l":-0.35,"u":0.3},
{"y":1928,"B":0.3,"C":0.25,"N":0.2,"G":0.4,"H":0.28,"l":0,"u":0.55},
{"y":1930,"B":0.38,"C":0.33,"N":0.3,"G":0.38,"H":0.35,"l":0.1,"u":0.6},
{"y":1932,"B":0.35,"C":0.35,"N":0.3,"G":0.45,"H":0.35,"l":0.1,"u":0.6},
{"y":1933,"B":-0.3,"C":-0.35,"N":-0.6,"G":-0.3,"H":-0.31,"l":-0.55,"u":0},
{"y":1935,"B":0.62,"C":0.6,"N":0.5,"G":0.75,"H":0.63,"l":0.4,"u":0.85},
{"y":1936,"B":0.25,"C":0.2,"N":0.15,"G":0.25,"H":0.21,"l":0,"u":0.45},
{"y":1938,"B":1.1,"C":1.05,"N":1,"G":1.25,"H":1.12,"l":0.9,"u":1.35},
{"y":1940,"B":0.75,"C":0.7,"N":0.65,"G":0.85,"H":0.77,"l":0.55,"u":0.95},
{"y":1941,"B":0.1,"C":0.05,"N":0.05,"G":0.1,"H":0.08,"l":-0.1,"u":0.3},
{"y":1943,"B":1.1,"C":1.05,"N":1.05,"G":1.15,"H":1.12,"l":0.95,"u":1.3},
{"y":1945,"B":0.75,"C":0.72,"N":0.7,"G":0.8,"H":0.77,"l":0.6,"u":0.95},
{"y":1946,"B":-0.15,"C":-0.15,"N":-0.25,"G":-0.1,"H":-0.13,"l":-0.3,"u":0.05},
{"y":1947,"B":0.98,"C":0.75,"N":0.7,"G":0.8,"H":0.77,"l":0.6,"u":0.95},
{"y":1949,"B":0.1,"C":0.05,"N":0,"G":0.08,"H":0.08,"l":-0.05,"u":0.2},
{"y":1951,"B":0.1,"C":0.08,"N":-0.05,"G":0.1,"H":0.1,"l":-0.05,"u":0.22},
{"y":1953,"B":0.82,"C":0.8,"N":0.75,"G":0.88,"H":0.84,"l":0.7,"u":0.95},
{"y":1955,"B":-0.25,"C":-0.28,"N":-0.35,"G":-0.25,"H":-0.27,"l":-0.38,"u":-0.15},
{"y":1957,"B":0.08,"C":0.05,"N":0,"G":0.08,"H":0.08,"l":-0.05,"u":0.2},
{"y":1959,"B":-0.22,"C":-0.25,"N":-0.32,"G":-0.24,"H":-0.24,"l":-0.35,"u":-0.12},
{"y":1961,"B":0.38,"C":0.33,"N":0.28,"G":0.35,"H":0.35,"l":0.24,"u":0.46},
{"y":1962,"B":-0.04,"C":-0.08,"N":-0.12,"G":-0.06,"H":-0.06,"l":-0.16,"u":0.05},
{"y":1964,"B":0.55,"C":0.45,"N":0.42,"G":0.5,"H":0.49,"l":0.38,"u":0.6},
{"y":1965,"B":0.1,"C":0.06,"N":0,"G":0.08,"H":0.08,"l":-0.02,"u":0.18},
{"y":1966,"B":-0.6,"C":-0.62,"N":-0.7,"G":-0.6,"H":-0.62,"l":-0.72,"u":-0.52},
{"y":1968,"B":0.35,"C":0.33,"N":0.3,"G":0.35,"H":0.35,"l":0.25,"u":0.45},
{"y":1970,"B":-0.25,"C":-0.28,"N":-0.35,"G":-0.27,"H":-0.27,"l":-0.37,"u":-0.17},
{"y":1972,"B":-0.18,"C":-0.2,"N":-0.28,"G":-0.22,"H":-0.2,"l":-0.3,"u":-0.1},
{"y":1973,"B":0.15,"C":0.14,"N":0.1,"G":0.15,"H":0.15,"l":0.05,"u":0.25},
{"y":1975,"B":-0.1,"C":-0.14,"N":-0.2,"G":-0.13,"H":-0.13,"l":-0.23,"u":-0.03},
{"y":1977,"B":0.22,"C":0.2,"N":0.15,"G":0.21,"H":0.21,"l":0.11,"u":0.31},
{"y":1979,"E":-0.6,"B":-0.6,"C":-0.62,"N":-0.65,"G":-0.6,"H":-0.62,"l":-0.72,"u":-0.52},
{"y":1981,"E":1.05,"B":1.05,"C":1.05,"N":1,"G":1.08,"H":1.08,"l":0.98,"u":1.18},
{"y":1982,"E":-0.38,"B":-0.4,"C":-0.42,"N":-0.45,"G":-0.41,"H":-0.41,"l":-0.5,"u":-0.31},
{"y":1984,"E":0.35,"B":0.28,"C":0.2,"N":0.18,"G":0.21,"H":0.21,"l":0.11,"u":0.31},
{"y":1986,"E":0.26,"B":0.25,"C":0.27,"N":0.22,"G":0.28,"H":0.28,"l":0.18,"u":0.38},
{"y":1987,"E":-0.36,"B":-0.3,"C":-0.35,"N":-0.38,"G":-0.34,"H":-0.34,"l":-0.44,"u":-0.24},
{"y":1989,"E":0.62,"B":0.6,"C":0.6,"N":0.55,"G":0.63,"H":0.63,"l":0.53,"u":0.73},
{"y":1990,"E":0.4,"B":0.4,"C":0.4,"N":0.35,"G":0.42,"H":0.42,"l":0.32,"u":0.52},
{"y":1991,"E":0.75,"B":0.72,"C":0.75,"N":0.7,"G":0.75,"H":0.77,"l":0.67,"u":0.87},
{"y":1992,"E":-0.22,"B":-0.2,"C":-0.22,"N":-0.25,"G":-0.2,"H":-0.2,"l":-0.3,"u":-0.1},
{"y":1994,"E":0.55,"B":0.55,"C":0.55,"N":0.5,"G":0.56,"H":0.56,"l":0.46,"u":0.66},
{"y":1995,"E":1.27,"B":1.25,"C":1.25,"N":1.2,"G":1.29,"H":1.29,"l":1.19,"u":1.39},
{"y":1997,"E":0.65,"B":0.7,"C":0.68,"N":0.55,"G":0.72,"H":0.7,"l":0.6,"u":0.8},
{"y":1998,"E":0.72,"B":0.78,"C":0.75,"N":0.62,"G":0.8,"H":0.77,"l":0.67,"u":0.87},
{"y":2000,"E":0.95,"B":1,"C":0.95,"N":0.88,"G":0.98,"H":0.98,"l":0.88,"u":1.08},
{"y":2002,"E":1.05,"B":1.08,"C":1.02,"N":0.95,"G":1.05,"H":1.05,"l":0.95,"u":1.15},
{"y":2003,"E":1.45,"B":1.5,"C":1.45,"N":1.35,"G":1.48,"H":1.46,"l":1.36,"u":1.56},
{"y":2004,"E":0.6,"B":0.6,"C":0.55,"N":0.55,"G":0.56,"H":0.56,"l":0.46,"u":0.66},
{"y":2005,"E":1.92,"B":1.95,"C":1.9,"N":1.5,"G":1.9,"H":1.88,"l":1.78,"u":1.98},
{"y":2007,"E":1.98,"B":2.1,"C":1.95,"N":1.6,"G":1.95,"H":1.98,"l":1.88,"u":2.08},
{"y":2009,"E":1.3,"B":1.4,"C":1.3,"N":1,"G":1.35,"H":1.32,"l":1.22,"u":1.42},
{"y":2011,"E":2.1,"B":2.23,"C":2.05,"N":1.67,"G":2.05,"H":2.09,"l":1.99,"u":2.19},
{"y":2013,"E":1.4,"B":1.45,"C":1.35,"N":1.22,"G":1.4,"H":1.39,"l":1.29,"u":1.49},
{"y":2014,"E":1.9,"B":1.92,"C":1.85,"N":1.55,"G":1.88,"H":1.88,"l":1.78,"u":1.98},
{"y":2015,"E":1.9,"B":1.95,"C":1.88,"N":1.6,"G":1.9,"H":1.88,"l":1.78,"u":1.98},
{"y":2016,"E":2.95,"B":3.06,"C":2.9,"N":2.36,"G":2.85,"H":2.78,"l":2.6,"u":2.95},
{"y":2018,"E":2,"B":2.1,"C":2,"N":1.6,"G":1.95,"H":1.91,"l":1.8,"u":2.05}
],
"e":[
{"y":1850,"B":-0.72,"C":-0.45,"H":-0.56,"l":-0.82,"u":0.1},
{"y":1851,"B":-0.45,"C":-0.22,"H":-0.32,"l":-0.7,"u":0.12},
{"y":1853,"B":-0.5,"C":-0.35,"H":-0.4,"l":-0.75,"u":0.05},
{"y":1854,"B":-0.3,"C":-0.15,"H":-0.11,"l":-0.55,"u":0.15},
{"y":1855,"B":-0.35,"C":-0.2,"H":-0.15,"l":-0.6,"u":0.1},
{"y":1857,"B":-0.77,"C":-0.42,"H":-0.5,"l":-0.85,"u":-0.1},
{"y":1859,"B":-0.35,"C":-0.22,"H":-0.2,"l":-0.6,"u":0.1},
{"y":1860,"B":-0.65,"C":-0.5,"H":-0.55,"l":-0.85,"u":-0.15},
{"y":1861,"B":-0.6,"C":-0.45,"H":-0.48,"l":-0.8,"u":-0.1},
{"y":1862,"B":-0.96,"C":-0.7,"H":-0.74,"l":-1.05,"u":-0.3},
{"y":1863,"B":-0.25,"C":-0.18,"H":-0.16,"l":-0.55,"u":0.15},
{"y":1864,"B":-0.55,"C":-0.42,"H":-0.48,"l":-0.8,"u":-0.1},
{"y":1866,"B":-0.3,"C":-0.25,"H":-0.24,"l":-0.6,"u":0.05},
{"y":1868,"B":-0.4,"C":-0.36,"H":-0.38,"l":-0.7,"u":-0.05},
{"y":1869,"B":-0.33,"C":-0.3,"H":-0.29,"l":-0.65,"u":0},
{"y":1871,"B":-0.5,"C":-0.5,"H":-0.51,"l":-0.8,"u":-0.2},
{"y":1873,"B":-0.45,"C":-0.4,"H":-0.42,"l":-0.75,"u":-0.1},
{"y":1874,"B":-0.25,"C":-0.22,"H":-0.2,"l":-0.55,"u":0.05},
{"y":1875,"B":-0.65,"C":-0.6,"H":-0.61,"l":-0.9,"u":-0.3},
{"y":1877,"B":-0.28,"C":-0.25,"H":-0.24,"l":-0.55,"u":0},
{"y":1878,"B":0,"C":0.02,"H":0.01,"l":-0.2,"u":0.22},
{"y":1880,"B":-0.45,"C":-0.4,"N":-0.44,"G":-0.42,"H":-0.42,"l":-0.65,"u":-0.15},
{"y":1882,"B":-0.3,"C":-0.28,"N":-0.3,"G":-0.17,"H":-0.27,"l":-0.5,"u":-0.05},
{"y":1884,"B":-0.65,"C":-0.62,"N":-0.7,"G":-0.68,"H":-0.68,"l":-0.85,"u":-0.45},
{"y":1886,"B":-0.45,"C":-0.4,"N":-0.43,"G":-0.4,"H":-0.4,"l":-0.6,"u":-0.2},
{"y":1888,"B":-0.45,"C":-0.38,"N":-0.42,"G":-0.42,"H":-0.41,"l":-0.6,"u":-0.2},
{"y":1889,"B":-0.32,"C":-0.25,"N":-0.33,"G":-0.3,"H":-0.3,"l":-0.5,"u":-0.12},
{"y":1890,"B":-0.45,"C":-0.3,"N":-0.45,"G":-0.42,"H":-0.42,"l":-0.6,"u":-0.2},
{"y":1892,"B":-0.5,"C":-0.45,"N":-0.55,"G":-0.5,"H":-0.47,"l":-0.65,"u":-0.28},
{"y":1893,"B":-0.55,"C":-0.5,"N":-0.62,"G":-0.55,"H":-0.52,"l":-0.72,"u":-0.32},
{"y":1894,"B":-0.33,"C":-0.28,"N":-0.35,"G":-0.28,"H":-0.31,"l":-0.5,"u":-0.12},
{"y":1895,"B":-0.5,"C":-0.21,"N":-0.55,"G":-0.5,"H":-0.52,"l":-0.7,"u":-0.3},
{"y":1896,"B":-0.38,"C":-0.3,"N":-0.42,"G":-0.35,"H":-0.36,"l":-0.55,"u":-0.15},
{"y":1897,"B":-0.45,"C":-0.35,"N":-0.5,"G":-0.4,"H":-0.42,"l":-0.6,"u":-0.22},
{"y":1899,"B":-0.17,"C":-0.12,"N":-0.18,"G":-0.16,"H":-0.15,"l":-0.35,"u":0.02},
{"y":1901,"B":-0.18,"C":-0.15,"N":-0.18,"G":-0.18,"H":-0.16,"l":-0.35,"u":0.02},
{"y":1903,"B":-0.73,"C":-0.6,"N":-0.69,"G":-0.65,"H":-0.62,"l":-0.82,"u":-0.42},
{"y":1905,"B":-0.6,"C":-0.5,"N":-0.6,"G":-0.55,"H":-0.55,"l":-0.75,"u":-0.38},
{"y":1907,"B":-0.32,"C":-0.28,"N":-0.35,"G":-0.3,"H":-0.3,"l":-0.5,"u":-0.12},
{"y":1908,"B":-0.69,"C":-0.6,"N":-0.7,"G":-0.65,"H":-0.65,"l":-0.82,"u":-0.45},
{"y":1909,"B":-0.6,"C":-0.52,"N":-0.58,"G":-0.55,"H":-0.55,"l":-0.72,"u":-0.38},
{"y":1910,"B":-0.5,"C":-0.45,"N":-0.5,"G":-0.47,"H":-0.47,"l":-0.65,"u":-0.3},
{"y":1912,"B":-0.76,"C":-0.75,"N":-0.78,"G":-0.76,"H":-0.76,"l":-0.89,"u":-0.6},
{"y":1914,"B":-0.26,"C":-0.22,"N":-0.28,"G":-0.25,"H":-0.25,"l":-0.4,"u":-0.1},
{"y":1915,"B":-0.22,"C":-0.2,"N":-0.23,"G":-0.21,"H":-0.21,"l":-0.35,"u":-0.05},
{"y":1917,"B":-0.45,"C":-0.4,"N":-0.45,"G":-0.43,"H":-0.43,"l":-0.58,"u":-0.28},
{"y":1918,"B":-0.38,"C":-0.35,"N":-0.38,"G":-0.36,"H":-0.36,"l":-0.5,"u":-0.2},
{"y":1920,"B":-0.45,"C":-0.4,"N":-0.42,"G":-0.45,"H":-0.42,"l":-0.55,"u":-0.28},
{"y":1921,"B":-0.04,"C":0,"N":-0.03,"G":-0.02,"H":-0.02,"l":-0.15,"u":0.1},
{"y":1923,"B":-0.28,"C":-0.25,"N":-0.27,"G":-0.28,"H":-0.26,"l":-0.38,"u":-0.14},
{"y":1924,"B":-0.27,"C":-0.24,"N":-0.27,"G":-0.26,"H":-0.26,"l":-0.38,"u":-0.14},
{"y":1926,"B":-0.12,"C":-0.08,"N":-0.12,"G":-0.1,"H":-0.1,"l":-0.22,"u":0.02},
{"y":1928,"B":-0.22,"C":-0.17,"N":-0.21,"G":-0.2,"H":-0.19,"l":-0.3,"u":-0.08},
{"y":1929,"B":-0.55,"C":-0.52,"N":-0.55,"G":-0.6,"H":-0.55,"l":-0.66,"u":-0.44},
{"y":1930,"B":-0.09,"C":-0.05,"N":-0.08,"G":-0.07,"H":-0.07,"l":-0.18,"u":0.04},
{"y":1932,"B":-0.14,"C":-0.1,"N":-0.13,"G":-0.12,"H":-0.12,"l":-0.22,"u":-0.02},
{"y":1933,"B":-0.06,"C":-0.03,"N":-0.05,"G":-0.04,"H":-0.04,"l":-0.14,"u":0.06},
{"y":1934,"B":-0.19,"C":-0.15,"N":-0.18,"G":-0.17,"H":-0.17,"l":-0.27,"u":-0.07},
{"y":1936,"B":-0.17,"C":-0.14,"N":-0.16,"G":-0.15,"H":-0.15,"l":-0.25,"u":-0.05},
{"y":1938,"B":0.15,"C":0.17,"N":0.17,"G":0.16,"H":0.16,"l":0.05,"u":0.33},
{"y":1940,"B":-0.02,"C":0,"N":0,"G":0,"H":0,"l":-0.1,"u":0.12},
{"y":1941,"B":-0.14,"C":-0.1,"N":-0.14,"G":-0.12,"H":-0.12,"l":-0.22,"u":0},
{"y":1943,"B":-0.02,"C":0.02,"N":0,"G":0,"H":0,"l":-0.1,"u":0.1},
{"y":1944,"B":0.1,"C":0.15,"N":0.12,"G":0.12,"H":0.12,"l":0.02,"u":0.22},
{"y":1945,"B":-0.02,"C":0.02,"N":0,"G":0,"H":0,"l":-0.1,"u":0.1},
{"y":1946,"B":0,"C":0.05,"N":0.02,"G":0.02,"H":0.02,"l":-0.08,"u":0.12},
{"y":1948,"B":-0.16,"C":-0.12,"N":-0.16,"G":-0.14,"H":-0.14,"l":-0.24,"u":-0.04},
{"y":1949,"B":0.04,"C":0.08,"N":0.05,"G":0.06,"H":0.06,"l":-0.04,"u":0.16},
{"y":1950,"B":-0.15,"C":-0.12,"N":-0.16,"G":-0.15,"H":-0.14,"l":-0.24,"u":-0.04},
{"y":1951,"B":0.1,"C":0.13,"N":0.1,"G":0.11,"H":0.11,"l":0.01,"u":0.21},
{"y":1953,"B":0.15,"C":0.18,"N":0.16,"G":0.17,"H":0.17,"l":0.07,"u":0.27},
{"y":1954,"B":-0.17,"C":-0.15,"N":-0.18,"G":-0.18,"H":-0.16,"l":-0.26,"u":-0.06},
{"y":1955,"B":0.11,"C":0.14,"N":0.11,"G":0.12,"H":0.12,"l":0.02,"u":0.22},
{"y":1956,"B":-0.3,"C":-0.28,"N":-0.3,"G":-0.3,"H":-0.3,"l":-0.38,"u":-0.22},
{"y":1958,"B":0.11,"C":0.13,"N":0.11,"G":0.12,"H":0.12,"l":0.04,"u":0.2},
{"y":1960,"B":-0.06,"C":-0.04,"N":-0.06,"G":-0.05,"H":-0.05,"l":-0.13,"u":0.03},
{"y":1961,"B":0.16,"C":0.17,"N":0.15,"G":0.16,"H":0.16,"l":0.08,"u":0.24},
{"y":1962,"B":0.2,"C":0.16,"N":0.14,"G":0.15,"H":0.15,"l":0.07,"u":0.23},
{"y":1964,"B":-0.23,"C":-0.21,"N":-0.23,"G":-0.22,"H":-0.22,"l":-0.3,"u":-0.14},
{"y":1965,"B":-0.03,"C":0,"N":-0.03,"G":-0.02,"H":-0.02,"l":-0.1,"u":0.06},
{"y":1967,"B":0.04,"C":0.07,"N":0.04,"G":0.05,"H":0.05,"l":-0.03,"u":0.13},
{"y":1969,"B":-0.48,"C":-0.47,"N":-0.48,"G":-0.49,"H":-0.48,"l":-0.54,"u":-0.42},
{"y":1970,"B":-0.15,"C":-0.12,"N":-0.15,"G":-0.15,"H":-0.15,"l":-0.21,"u":-0.09},
{"y":1971,"B":-0.06,"C":-0.04,"N":-0.06,"G":-0.06,"H":-0.06,"l":-0.12,"u":0},
{"y":1972,"B":-0.4,"C":-0.4,"N":-0.4,"G":-0.4,"H":-0.4,"l":-0.46,"u":-0.34},
{"y":1973,"B":0.07,"C":0.08,"N":0.08,"G":0.07,"H":0.07,"l":0.01,"u":0.13},
{"y":1975,"B":-0.24,"C":-0.24,"N":-0.24,"G":-0.24,"H":-0.24,"l":-0.3,"u":-0.18},
{"y":1976,"B":0.1,"C":0.08,"N":0.1,"G":0.1,"H":0.1,"l":0.04,"u":0.16},
{"y":1977,"B":-0.4,"C":-0.4,"N":-0.4,"G":-0.4,"H":-0.4,"l":-0.46,"u":-0.34},
{"y":1978,"B":0.07,"C":0.05,"N":0.07,"G":0.07,"H":0.07,"l":0.01,"u":0.13},
{"y":1979,"E":-0.09,"B":-0.09,"C":-0.11,"N":-0.09,"G":-0.09,"H":-0.09,"l":-0.15,"u":-0.03},
{"y":1980,"E":0.05,"B":0.05,"C":0.03,"N":0.05,"G":0.05,"H":0.05,"l":-0.01,"u":0.11},
{"y":1981,"E":0.35,"B":0.32,"C":0.3,"N":0.32,"G":0.32,"H":0.32,"l":0.26,"u":0.38},
{"y":1982,"E":-0.08,"B":-0.09,"C":-0.11,"N":-0.09,"G":-0.09,"H":-0.09,"l":-0.15,"u":-0.03},
{"y":1983,"E":0.22,"B":0.22,"C":0.2,"N":0.22,"G":0.23,"H":0.22,"l":0.16,"u":0.28},
{"y":1985,"E":-0.2,"B":-0.2,"C":-0.23,"N":-0.2,"G":-0.2,"H":-0.2,"l":-0.26,"u":-0.14},
{"y":1986,"E":0.05,"B":0.05,"C":0.02,"N":0.06,"G":0.07,"H":0.05,"l":-0.01,"u":0.11},
{"y":1988,"E":0.37,"B":0.35,"C":0.33,"N":0.35,"G":0.36,"H":0.35,"l":0.29,"u":0.41},
{"y":1990,"E":0.62,"B":0.6,"C":0.6,"N":0.6,"G":0.66,"H":0.61,"l":0.55,"u":0.67},
{"y":1992,"E":0.25,"B":0.24,"C":0.24,"N":0.24,"G":0.25,"H":0.25,"l":0.19,"u":0.31},
{"y":1993,"E":-0.04,"B":-0.04,"C":-0.05,"N":-0.06,"G":-0.04,"H":-0.04,"l":-0.1,"u":0.02},
{"y":1994,"E":0.42,"B":0.41,"C":0.4,"N":0.41,"G":0.41,"H":0.41,"l":0.35,"u":0.47},
{"y":1995,"E":0.55,"B":0.52,"C":0.5,"N":0.52,"G":0.52,"H":0.52,"l":0.46,"u":0.58},
{"y":1996,"E":0.06,"B":0.06,"C":0.04,"N":0.06,"G":0.06,"H":0.06,"l":0,"u":0.12},
{"y":1998,"E":0.8,"B":0.8,"C":0.8,"N":0.81,"G":0.81,"H":0.81,"l":0.75,"u":0.87},
{"y":2000,"E":0.65,"B":0.64,"C":0.64,"N":0.65,"G":0.65,"H":0.65,"l":0.59,"u":0.71},
{"y":2001,"E":0.72,"B":0.71,"C":0.71,"N":0.72,"G":0.72,"H":0.72,"l":0.66,"u":0.78},
{"y":2003,"E":0.6,"B":0.58,"C":0.58,"N":0.6,"G":0.6,"H":0.6,"l":0.54,"u":0.66},
{"y":2005,"E":0.77,"B":0.74,"C":0.74,"N":0.76,"G":0.76,"H":0.76,"l":0.7,"u":0.82},
{"y":2007,"E":0.9,"B":0.86,"C":0.86,"N":0.88,"G":0.9,"H":0.88,"l":0.82,"u":0.94},
{"y":2009,"E":0.57,"B":0.53,"C":0.54,"N":0.56,"G":0.56,"H":0.56,"l":0.5,"u":0.62},
{"y":2010,"E":0.8,"B":0.76,"C":0.77,"N":0.78,"G":0.79,"H":0.79,"l":0.73,"u":0.85},
{"y":2011,"E":0.68,"B":0.64,"C":0.63,"N":0.66,"G":0.67,"H":0.67,"l":0.61,"u":0.73},
{"y":2013,"E":0.83,"B":0.78,"C":0.8,"N":0.82,"G":0.82,"H":0.82,"l":0.76,"u":0.88},
{"y":2014,"E":0.84,"B":0.79,"C":0.81,"N":0.83,"G":0.84,"H":0.83,"l":0.77,"u":0.89},
{"y":2015,"E":1.15,"B":1.1,"C":1.12,"N":1.14,"G":1.15,"H":1.14,"l":1.08,"u":1.2},
{"y":2016,"E":1.1,"B":1.05,"C":1.06,"N":1.1,"G":1.12,"H":1.09,"l":1.03,"u":1.15},
{"y":2018,"E":0.97,"B":0.9,"C":0.88,"N":0.95,"G":1.02,"H":0.94,"l":0.88,"u":1}
],
"f":[
{"y":1850,"B":-0.49,"C":-0.35,"H":-0.27,"l":-0.45,"u":0.15},
{"y":1851,"B":-0.43,"C":-0.28,"H":-0.19,"l":-0.45,"u":0.18},
{"y":1852,"B":-0.3,"C":-0.18,"H":-0.06,"l":-0.4,"u":0.18},
{"y":1853,"B":-0.22,"C":-0.14,"H":-0.08,"l":-0.4,"u":0.15},
{"y":1855,"B":-0.28,"C":-0.24,"H":-0.19,"l":-0.5,"u":0.05},
{"y":1856,"B":-0.35,"C":-0.25,"H":-0.17,"l":-0.5,"u":0.08},
{"y":1857,"B":-0.63,"C":-0.44,"H":-0.39,"l":-0.66,"u":-0.1},
{"y":1858,"B":-0.5,"C":-0.42,"H":-0.4,"l":-0.66,"u":-0.12},
{"y":1859,"B":-0.52,"C":-0.38,"H":-0.27,"l":-0.6,"u":0},
{"y":1861,"B":-0.55,"C":-0.42,"H":-0.28,"l":-0.62,"u":-0.02},
{"y":1862,"B":-0.7,"C":-0.56,"H":-0.44,"l":-0.75,"u":-0.15},
{"y":1863,"B":-0.6,"C":-0.45,"H":-0.38,"l":-0.7,"u":-0.1},
{"y":1864,"B":-0.5,"C":-0.48,"H":-0.42,"l":-0.7,"u":-0.12},
{"y":1865,"B":-0.2,"C":-0.2,"H":-0.19,"l":-0.5,"u":0.1},
{"y":1866,"B":-0.3,"C":-0.28,"H":-0.29,"l":-0.55,"u":0},
{"y":1867,"B":-0.2,"C":-0.2,"H":-0.18,"l":-0.5,"u":0.05},
{"y":1868,"B":-0.28,"C":-0.26,"H":-0.27,"l":-0.55,"u":0},
{"y":1870,"B":-0.22,"C":-0.22,"H":-0.18,"l":-0.45,"u":0.08},
{"y":1871,"B":-0.25,"C":-0.22,"H":-0.18,"l":-0.45,"u":0.05},
{"y":1873,"B":-0.3,"C":-0.27,"H":-0.24,"l":-0.5,"u":0},
{"y":1874,"B":-0.53,"C":-0.42,"H":-0.38,"l":-0.62,"u":-0.12},
{"y":1875,"B":-0.45,"C":-0.32,"H":-0.3,"l":-0.55,"u":-0.05},
{"y":1876,"B":-0.45,"C":-0.35,"H":-0.34,"l":-0.55,"u":-0.08},
{"y":1877,"B":0.15,"C":0.08,"H":0.1,"l":-0.05,"u":0.3},
{"y":1878,"B":0.18,"C":0.12,"H":0.13,"l":-0.02,"u":0.3},
{"y":1879,"B":-0.28,"C":-0.25,"H":-0.24,"l":-0.45,"u":-0.05},
{"y":1881,"B":-0.35,"C":-0.28,"N":-0.28,"G":-0.2,"H":-0.29,"l":-0.5,"u":-0.08},
{"y":1882,"B":-0.18,"C":-0.12,"N":-0.1,"G":-0.04,"H":-0.12,"l":-0.35,"u":0.05},
{"y":1883,"B":-0.4,"C":-0.3,"N":-0.3,"G":-0.28,"H":-0.32,"l":-0.55,"u":-0.1},
{"y":1884,"B":-0.56,"C":-0.45,"N":-0.4,"G":-0.4,"H":-0.47,"l":-0.68,"u":-0.25},
{"y":1885,"B":-0.42,"C":-0.33,"N":-0.23,"G":-0.3,"H":-0.34,"l":-0.58,"u":-0.12},
{"y":1886,"B":-0.48,"C":-0.38,"N":-0.35,"G":-0.35,"H":-0.39,"l":-0.62,"u":-0.18},
{"y":1888,"B":-0.3,"C":-0.2,"N":-0.08,"G":-0.07,"H":-0.19,"l":-0.45,"u":0.02},
{"y":1889,"B":-0.35,"C":-0.25,"N":-0.12,"G":-0.1,"H":-0.23,"l":-0.5,"u":0},
{"y":1890,"B":-0.55,"C":-0.48,"N":-0.45,"G":-0.45,"H":-0.51,"l":-0.71,"u":-0.3},
{"y":1891,"B":-0.35,"C":-0.3,"N":-0.2,"G":-0.14,"H":-0.29,"l":-0.55,"u":-0.05},
{"y":1892,"B":-0.58,"C":-0.52,"N":-0.5,"G":-0.5,"H":-0.54,"l":-0.75,"u":-0.3},
{"y":1894,"B":-0.6,"C":-0.55,"N":-0.52,"G":-0.52,"H":-0.56,"l":-0.77,"u":-0.32},
{"y":1895,"B":-0.38,"C":-0.33,"N":-0.3,"G":-0.28,"H":-0.34,"l":-0.55,"u":-0.12},
{"y":1897,"B":-0.1,"C":-0.08,"N":-0.02,"G":0.05,"H":-0.07,"l":-0.3,"u":0.12},
{"y":1898,"B":-0.4,"C":-0.35,"N":-0.3,"G":-0.3,"H":-0.37,"l":-0.58,"u":-0.15},
{"y":1899,"B":-0.35,"C":-0.3,"N":-0.3,"G":-0.3,"H":-0.32,"l":-0.55,"u":-0.1},
{"y":1900,"B":-0.1,"C":-0.05,"N":-0.1,"G":-0.08,"H":-0.07,"l":-0.3,"u":0.12},
{"y":1902,"B":-0.3,"C":-0.25,"N":-0.3,"G":-0.28,"H":-0.27,"l":-0.48,"u":-0.08},
{"y":1903,"B":-0.45,"C":-0.38,"N":-0.45,"G":-0.42,"H":-0.42,"l":-0.62,"u":-0.22},
{"y":1904,"B":-0.6,"C":-0.55,"N":-0.6,"G":-0.58,"H":-0.58,"l":-0.75,"u":-0.38},
{"y":1906,"B":-0.35,"C":-0.28,"N":-0.35,"G":-0.33,"H":-0.32,"l":-0.5,"u":-0.12},
{"y":1907,"B":-0.48,"C":-0.4,"N":-0.48,"G":-0.45,"H":-0.44,"l":-0.62,"u":-0.25},
{"y":1908,"B":-0.5,"C":-0.45,"N":-0.52,"G":-0.48,"H":-0.47,"l":-0.65,"u":-0.28},
{"y":1910,"B":-0.6,"C":-0.55,"N":-0.6,"G":-0.58,"H":-0.58,"l":-0.75,"u":-0.4},
{"y":1911,"B":-0.35,"C":-0.28,"N":-0.38,"G":-0.34,"H":-0.32,"l":-0.5,"u":-0.15},
{"y":1913,"B":-0.48,"C":-0.4,"N":-0.5,"G":-0.48,"H":-0.47,"l":-0.62,"u":-0.3},
{"y":1915,"B":-0.08,"C":-0.01,"N":-0.1,"G":-0.08,"H":-0.06,"l":-0.25,"u":0.1},
{"y":1916,"B":-0.36,"C":-0.3,"N":-0.4,"G":-0.36,"H":-0.34,"l":-0.5,"u":-0.18},
{"y":1917,"B":-0.62,"C":-0.55,"N":-0.62,"G":-0.74,"H":-0.58,"l":-0.72,"u":-0.42},
{"y":1919,"B":-0.26,"C":-0.22,"N":-0.4,"G":-0.35,"H":-0.24,"l":-0.38,"u":-0.1},
{"y":1920,"B":-0.28,"C":-0.22,"N":-0.47,"G":-0.42,"H":-0.32,"l":-0.45,"u":-0.18},
{"y":1921,"B":-0.27,"C":-0.2,"N":-0.42,"G":-0.38,"H":-0.3,"l":-0.43,"u":-0.16},
{"y":1923,"B":-0.28,"C":-0.22,"N":-0.4,"G":-0.37,"H":-0.32,"l":-0.45,"u":-0.18},
{"y":1924,"B":-0.22,"C":-0.18,"N":-0.3,"G":-0.28,"H":-0.23,"l":-0.36,"u":-0.1},
{"y":1925,"B":-0.25,"C":-0.2,"N":-0.3,"G":-0.28,"H":-0.27,"l":-0.4,"u":-0.13},
{"y":1926,"B":0.05,"C":0.08,"N":-0.05,"G":0,"H":0.03,"l":-0.1,"u":0.18},
{"y":1928,"B":-0.1,"C":-0.05,"N":-0.2,"G":-0.17,"H":-0.11,"l":-0.25,"u":0.03},
{"y":1929,"B":-0.16,"C":-0.1,"N":-0.22,"G":-0.2,"H":-0.14,"l":-0.28,"u":0},
{"y":1930,"B":-0.25,"C":-0.2,"N":-0.3,"G":-0.3,"H":-0.22,"l":-0.35,"u":-0.08},
{"y":1931,"B":0.1,"C":0.17,"N":0.02,"G":0.05,"H":0.1,"l":-0.05,"u":0.25},
{"y":1932,"B":-0.2,"C":-0.15,"N":-0.32,"G":-0.3,"H":-0.17,"l":-0.3,"u":-0.04},
{"y":1934,"B":-0.22,"C":-0.13,"N":-0.37,"G":-0.35,"H":-0.19,"l":-0.32,"u":-0.05},
{"y":1935,"B":-0.08,"C":-0.03,"N":-0.2,"G":-0.18,"H":-0.07,"l":-0.2,"u":0.06},
{"y":1937,"B":0.02,"C":0.1,"N":-0.05,"G":-0.02,"H":0.03,"l":-0.1,"u":0.16},
{"y":1938,"B":-0.13,"C":-0.08,"N":-0.25,"G":-0.2,"H":-0.11,"l":-0.24,"u":0.02},
{"y":1939,"B":-0.05,"C":-0.1,"N":-0.2,"G":-0.15,"H":-0.11,"l":-0.24,"u":0.02},
{"y":1941,"B":0.3,"C":0.36,"N":0.4,"G":0.44,"H":0.3,"l":0.15,"u":0.52},
{"y":1942,"B":-0.02,"C":0.02,"N":-0.1,"G":-0.05,"H":-0.01,"l":-0.15,"u":0.15},
{"y":1943,"B":0.04,"C":0.06,"N":-0.02,"G":0,"H":0.04,"l":-0.1,"u":0.18},
{"y":1945,"B":0.04,"C":0.06,"N":0,"G":0.02,"H":0.05,"l":-0.08,"u":0.18},
{"y":1946,"B":0.02,"C":0.06,"N":-0.05,"G":-0.02,"H":0.02,"l":-0.1,"u":0.15},
{"y":1948,"B":-0.1,"C":-0.06,"N":-0.18,"G":-0.15,"H":-0.09,"l":-0.22,"u":0.04},
{"y":1949,"B":-0.25,"C":-0.2,"N":-0.35,"G":-0.3,"H":-0.22,"l":-0.35,"u":-0.08},
{"y":1950,"B":0.05,"C":0.07,"N":-0.04,"G":0,"H":0.05,"l":-0.08,"u":0.18},
{"y":1952,"B":0.05,"C":0.08,"N":-0.05,"G":-0.02,"H":0.05,"l":-0.08,"u":0.18},
{"y":1953,"B":0.07,"C":0.09,"N":0.02,"G":0.03,"H":0.07,"l":-0.05,"u":0.2},
{"y":1954,"B":-0.15,"C":-0.12,"N":-0.22,"G":-0.18,"H":-0.14,"l":-0.25,"u":-0.02},
{"y":1956,"B":-0.32,"C":-0.3,"N":-0.35,"G":-0.33,"H":-0.32,"l":-0.42,"u":-0.22},
{"y":1957,"B":-0.1,"C":-0.1,"N":-0.12,"G":-0.12,"H":-0.12,"l":-0.2,"u":-0.04},
{"y":1958,"B":0.15,"C":0.23,"N":0.12,"G":0.13,"H":0.13,"l":0.05,"u":0.22},
{"y":1959,"B":0,"C":-0.02,"N":-0.05,"G":-0.04,"H":-0.04,"l":-0.12,"u":0.04},
{"y":1961,"B":-0.12,"C":-0.1,"N":-0.13,"G":-0.12,"H":-0.12,"l":-0.2,"u":-0.04},
{"y":1962,"B":-0.12,"C":-0.08,"N":-0.13,"G":-0.13,"H":-0.13,"l":-0.21,"u":-0.05},
{"y":1963,"B":0.05,"C":0.12,"N":0.03,"G":0.03,"H":0.03,"l":-0.05,"u":0.11},
{"y":1964,"B":-0.18,"C":-0.15,"N":-0.2,"G":-0.19,"H":-0.19,"l":-0.27,"u":-0.11},
{"y":1965,"B":-0.08,"C":-0.05,"N":-0.09,"G":-0.08,"H":-0.08,"l":-0.16,"u":0},
{"y":1966,"B":0.12,"C":0.16,"N":0.12,"G":0.13,"H":0.13,"l":0.05,"u":0.21},
{"y":1967,"B":-0.18,"C":-0.2,"N":-0.2,"G":-0.19,"H":-0.19,"l":-0.27,"u":-0.11},
{"y":1968,"B":-0.12,"C":-0.1,"N":-0.13,"G":-0.12,"H":-0.12,"l":-0.2,"u":-0.04},
{"y":1969,"B":0.14,"C":0.29,"N":0.13,"G":0.13,"H":0.13,"l":0.05,"u":0.21},
{"y":1971,"B":-0.37,"C":-0.36,"N":-0.38,"G":-0.38,"H":-0.38,"l":-0.45,"u":-0.31},
{"y":1972,"B":-0.05,"C":-0.07,"N":-0.04,"G":-0.06,"H":-0.07,"l":-0.14,"u":0},
{"y":1973,"B":-0.01,"C":-0.04,"N":-0.01,"G":-0.02,"H":-0.02,"l":-0.09,"u":0.05},
{"y":1975,"B":-0.32,"C":-0.38,"N":-0.32,"G":-0.32,"H":-0.32,"l":-0.39,"u":-0.25},
{"y":1976,"B":-0.12,"C":-0.14,"N":-0.12,"G":-0.12,"H":-0.12,"l":-0.19,"u":-0.05},
{"y":1977,"B":0.05,"C":0.04,"N":0.05,"G":0.05,"H":0.05,"l":-0.02,"u":0.12},
{"y":1978,"B":0.1,"C":0.08,"N":0.11,"G":0.1,"H":0.1,"l":0.03,"u":0.17},
{"y":1980,"E":0.26,"B":0.24,"C":0.22,"N":0.23,"G":0.25,"H":0.25,"l":0.19,"u":0.31},
{"y":1981,"E":0.14,"B":0.12,"C":0.09,"N":0.12,"G":0.13,"H":0.13,"l":0.07,"u":0.19},
{"y":1983,"E":0.21,"B":0.18,"C":0.16,"N":0.19,"G":0.2,"H":0.2,"l":0.14,"u":0.26},
{"y":1984,"E":0,"B":-0.04,"C":-0.08,"N":-0.02,"G":0,"H":0,"l":-0.06,"u":0.06},
{"y":1985,"E":0,"B":-0.05,"C":-0.09,"N":-0.02,"G":-0.01,"H":-0.01,"l":-0.07,"u":0.05},
{"y":1987,"E":0.46,"B":0.42,"C":0.4,"N":0.44,"G":0.46,"H":0.46,"l":0.4,"u":0.52},
{"y":1988,"E":0.24,"B":0.22,"C":0.2,"N":0.22,"G":0.23,"H":0.23,"l":0.17,"u":0.29},
{"y":1989,"E":0.08,"B":0.05,"C":-0.03,"N":0.06,"G":0.08,"H":0.08,"l":0.02,"u":0.14},
{"y":1990,"E":0.38,"B":0.32,"C":0.3,"N":0.33,"G":0.33,"H":0.33,"l":0.27,"u":0.39},
{"y":1992,"E":0.17,"B":0.13,"C":0.1,"N":0.14,"G":0.15,"H":0.15,"l":0.09,"u":0.21},
{"y":1993,"E":0.28,"B":0.24,"C":0.2,"N":0.25,"G":0.26,"H":0.26,"l":0.2,"u":0.32},
{"y":1994,"E":0.28,"B":0.23,"C":0.2,"N":0.24,"G":0.25,"H":0.25,"l":0.19,"u":0.31},
{"y":1995,"E":0.42,"B":0.37,"C":0.34,"N":0.38,"G":0.39,"H":0.39,"l":0.33,"u":0.45},
{"y":1997,"E":0.3,"B":0.25,"C":0.22,"N":0.27,"G":0.28,"H":0.28,"l":0.22,"u":0.34},
{"y":1998,"E":0.7,"B":0.6,"C":0.6,"N":0.63,"G":0.64,"H":0.64,"l":0.58,"u":0.7},
{"y":1999,"E":0.27,"B":0.18,"C":0.18,"N":0.24,"G":0.25,"H":0.25,"l":0.19,"u":0.31},
{"y":2001,"E":0.3,"B":0.22,"C":0.2,"N":0.26,"G":0.27,"H":0.27,"l":0.21,"u":0.33},
{"y":2002,"E":0.5,"B":0.42,"C":0.43,"N":0.47,"G":0.48,"H":0.48,"l":0.42,"u":0.54},
{"y":2004,"E":0.6,"B":0.5,"C":0.54,"N":0.56,"G":0.57,"H":0.57,"l":0.51,"u":0.63},
{"y":2005,"E":0.6,"B":0.49,"C":0.52,"N":0.55,"G":0.56,"H":0.56,"l":0.5,"u":0.62},
{"y":2007,"E":0.52,"B":0.42,"C":0.45,"N":0.47,"G":0.48,"H":0.48,"l":0.42,"u":0.54},
{"y":2008,"E":0.38,"B":0.28,"C":0.33,"N":0.35,"G":0.36,"H":0.36,"l":0.3,"u":0.42},
{"y":2010,"E":0.76,"B":0.7,"C":0.72,"N":0.73,"G":0.74,"H":0.74,"l":0.68,"u":0.8},
{"y":2011,"E":0.4,"B":0.3,"C":0.32,"N":0.36,"G":0.38,"H":0.38,"l":0.32,"u":0.44},
{"y":2013,"E":0.54,"B":0.48,"C":0.48,"N":0.5,"G":0.52,"H":0.52,"l":0.46,"u":0.58},
{"y":2015,"E":0.97,"B":0.85,"C":0.85,"N":0.9,"G":0.92,"H":0.92,"l":0.86,"u":0.99},
{"y":2016,"E":0.98,"B":0.86,"C":0.85,"N":0.9,"G":0.93,"H":0.92,"l":0.86,"u":0.99},
{"y":2018,"E":0.72,"B":0.64,"C":0.61,"N":0.69,"G":0.71,"H":0.7,"l":0.64,"u":0.76}
]
},
"columns":2,
"spacing":0,
"bounds":"flush",
"resolve":{"scale":{"x":"independent","y":"independent","color":"independent"},"axis":{"x":"independent","y":"independent"},"legend":{"color":"independent"}},
"concat":[
{"width":578,"height":336,"data":{"name":"a"},"layer":[
{"mark":{"type":"area","clip":true},"encoding":{"x":{"field":"y","type":"quantitative","scale":{"domain":[1849,2020],"nice":false,"zero":false},"axis":null},"y":{"field":"l","type":"quantitative","scale":{"domain":[-3.5,3.5],"nice":false,"zero":false},"axis":{"orient":"left","values":[-3,-2,-1,0,1,2,3],"format":"d","title":null}},"y2":{"field":"u"}}},
{"transform":[{"fold":["E","G","N","B","C"],"as":["s","v"]},{"filter":"datum.v != null"}],"mark":{"type":"line","strokeWidth":2,"clip":true},"encoding":{"x":{"field":"y","type":"quantitative","axis":null},"y":{"field":"v","type":"quantitative","axis":{"orient":"left","values":[-3,-2,-1,0,1,2,3],"format":"d","title":null}},"color":{"field":"s","type":"nominal","scale":{"domain":["E","G","N","B","C","H"],"range":["#9467bd","#d62728","#ff7f0e","#2ca02c","#1f77b4","#262626"]},"legend":null}}},
{"mark":{"type":"line","strokeWidth":2.5,"color":"#262626","clip":true},"encoding":{"x":{"field":"y","type":"quantitative","axis":null},"y":{"field":"H","type":"quantitative","axis":{"orient":"left","values":[-3,-2,-1,0,1,2,3],"format":"d","title":null}}}},
{"data":{"values":[{}]},"mark":{"type":"text","fontWeight":"bold"},"encoding":{"x":{"datum":1853.4,"type":"quantitative","axis":null},"y":{"datum":2.89,"type":"quantitative","axis":{"orient":"left","values":[-3,-2,-1,0,1,2,3],"format":"d","title":null}},"text":{"value":"(a)"}}},
{"data":{"values":[{}]},"mark":{"type":"text"},"encoding":{"x":{"datum":1864.7,"type":"quantitative","axis":null},"y":{"datum":2.89,"type":"quantitative","axis":{"orient":"left","values":[-3,-2,-1,0,1,2,3],"format":"d","title":null}},"text":{"value":"90S-60S"}}}
]},
{"width":578,"height":336,"data":{"name":"d"},"layer":[
{"mark":{"type":"area","clip":true},"encoding":{"x":{"field":"y","type":"quantitative","scale":{"domain":[1849,2020],"nice":false,"zero":false},"axis":null},"y":{"field":"l","type":"quantitative","scale":{"domain":[-3.5,3.5],"nice":false,"zero":false},"axis":{"orient":"right","values":[-3,-2,-1,0,1,2,3],"format":"d","title":null}},"y2":{"field":"u"}}},
{"transform":[{"fold":["E","G","N","B","C"],"as":["s","v"]},{"filter":"datum.v != null"}],"mark":{"type":"line","strokeWidth":2,"clip":true},"encoding":{"x":{"field":"y","type":"quantitative","axis":null},"y":{"field":"v","type":"quantitative","axis":{"orient":"right","values":[-3,-2,-1,0,1,2,3],"format":"d","title":null}},"color":{"field":"s","type":"nominal","scale":{"domain":["E","G","N","B","C","H"],"range":["#9467bd","#d62728","#ff7f0e","#2ca02c","#1f77b4","#262626"]},"legend":{"orient":"none","legendX":55,"legendY":282,"columns":3,"title":null,"symbolType":"M-4,0H4","symbolSize":68,"symbolStrokeWidth":2.5,"symbolFillColor":"transparent","labelFontSize":15.4,"labelColor":"black","labelFont":"DejaVu Sans","labelOffset":19,"columnPadding":26,"rowPadding":6,"padding":0,"labelExpr":"datum.label == 'E' ? 'ERA5' : datum.label == 'N' ? 'NOAAGlobalTemp' : datum.label == 'C' ? 'Cowtan and Way' : datum.label == 'G' ? 'GISTEMP' : datum.label == 'B' ? 'Berkeley' : 'HadCRUT.5.0.0.0'"}}}},
{"mark":{"type":"line","strokeWidth":2.5,"color":"#262626","clip":true},"encoding":{"x":{"field":"y","type":"quantitative","axis":null},"y":{"field":"H","type":"quantitative","axis":{"orient":"right","values":[-3,-2,-1,0,1,2,3],"format":"d","title":null}}}},
{"data":{"values":[{}]},"mark":{"type":"text","fontWeight":"bold"},"encoding":{"x":{"datum":1853.6,"type":"quantitative","axis":null},"y":{"datum":2.89,"type":"quantitative","axis":{"orient":"right","values":[-3,-2,-1,0,1,2,3],"format":"d","title":null}},"text":{"value":"(d)"}}},
{"data":{"values":[{}]},"mark":{"type":"text"},"encoding":{"x":{"datum":1865,"type":"quantitative","axis":null},"y":{"datum":2.89,"type":"quantitative","axis":{"orient":"right","values":[-3,-2,-1,0,1,2,3],"format":"d","title":null}},"text":{"value":"60N-90N"}}}
]},
{"width":578,"height":336,"data":{"name":"b"},"layer":[
{"mark":{"type":"area","clip":true},"encoding":{"x":{"field":"y","type":"quantitative","scale":{"domain":[1849,2020],"nice":false,"zero":false},"axis":null},"y":{"field":"l","type":"quantitative","scale":{"domain":[-1.25,1.25],"nice":false,"zero":false},"axis":{"orient":"left","values":[-1,-0.5,0,0.5,1],"format":".1f","title":"Temperature anomaly (°C above 1961-1990 average)","titleFontSize":25.5,"titleFontWeight":"normal","titlePadding":19}},"y2":{"field":"u"}}},
{"transform":[{"fold":["E","G","N","B","C"],"as":["s","v"]},{"filter":"datum.v != null"}],"mark":{"type":"line","strokeWidth":2,"clip":true},"encoding":{"x":{"field":"y","type":"quantitative","axis":null},"y":{"field":"v","type":"quantitative","axis":{"orient":"left","values":[-1,-0.5,0,0.5,1],"format":".1f","title":"Temperature anomaly (°C above 1961-1990 average)","titleFontSize":25.5,"titleFontWeight":"normal","titlePadding":19}},"color":{"field":"s","type":"nominal","scale":{"domain":["E","G","N","B","C","H"],"range":["#9467bd","#d62728","#ff7f0e","#2ca02c","#1f77b4","#262626"]},"legend":null}}},
{"mark":{"type":"line","strokeWidth":2.5,"color":"#262626","clip":true},"encoding":{"x":{"field":"y","type":"quantitative","axis":null},"y":{"field":"H","type":"quantitative","axis":{"orient":"left","values":[-1,-0.5,0,0.5,1],"format":".1f","title":"Temperature anomaly (°C above 1961-1990 average)","titleFontSize":25.5,"titleFontWeight":"normal","titlePadding":19}}}},
{"data":{"values":[{}]},"mark":{"type":"text","fontWeight":"bold"},"encoding":{"x":{"datum":1853.6,"type":"quantitative","axis":null},"y":{"datum":1.034,"type":"quantitative","axis":{"orient":"left","values":[-1,-0.5,0,0.5,1],"format":".1f","title":"Temperature anomaly (°C above 1961-1990 average)","titleFontSize":25.5,"titleFontWeight":"normal","titlePadding":19}},"text":{"value":"(b)"}}},
{"data":{"values":[{}]},"mark":{"type":"text"},"encoding":{"x":{"datum":1864.7,"type":"quantitative","axis":null},"y":{"datum":1.034,"type":"quantitative","axis":{"orient":"left","values":[-1,-0.5,0,0.5,1],"format":".1f","title":"Temperature anomaly (°C above 1961-1990 average)","titleFontSize":25.5,"titleFontWeight":"normal","titlePadding":19}},"text":{"value":"60S-30S"}}}
]},
{"width":578,"height":336,"data":{"name":"e"},"layer":[
{"mark":{"type":"area","clip":true},"encoding":{"x":{"field":"y","type":"quantitative","scale":{"domain":[1849,2020],"nice":false,"zero":false},"axis":null},"y":{"field":"l","type":"quantitative","scale":{"domain":[-1.25,1.25],"nice":false,"zero":false},"axis":{"orient":"right","values":[-1,-0.5,0,0.5,1],"format":".1f","title":null}},"y2":{"field":"u"}}},
{"transform":[{"fold":["E","G","N","B","C"],"as":["s","v"]},{"filter":"datum.v != null"}],"mark":{"type":"line","strokeWidth":2,"clip":true},"encoding":{"x":{"field":"y","type":"quantitative","axis":null},"y":{"field":"v","type":"quantitative","axis":{"orient":"right","values":[-1,-0.5,0,0.5,1],"format":".1f","title":null}},"color":{"field":"s","type":"nominal","scale":{"domain":["E","G","N","B","C","H"],"range":["#9467bd","#d62728","#ff7f0e","#2ca02c","#1f77b4","#262626"]},"legend":null}}},
{"mark":{"type":"line","strokeWidth":2.5,"color":"#262626","clip":true},"encoding":{"x":{"field":"y","type":"quantitative","axis":null},"y":{"field":"H","type":"quantitative","axis":{"orient":"right","values":[-1,-0.5,0,0.5,1],"format":".1f","title":null}}}},
{"data":{"values":[{}]},"mark":{"type":"text","fontWeight":"bold"},"encoding":{"x":{"datum":1853.6,"type":"quantitative","axis":null},"y":{"datum":1.034,"type":"quantitative","axis":{"orient":"right","values":[-1,-0.5,0,0.5,1],"format":".1f","title":null}},"text":{"value":"(e)"}}},
{"data":{"values":[{}]},"mark":{"type":"text"},"encoding":{"x":{"datum":1865,"type":"quantitative","axis":null},"y":{"datum":1.034,"type":"quantitative","axis":{"orient":"right","values":[-1,-0.5,0,0.5,1],"format":".1f","title":null}},"text":{"value":"30N-60N"}}}
]},
{"width":578,"height":336,"data":{"name":"c"},"layer":[
{"mark":{"type":"area","clip":true},"encoding":{"x":{"field":"y","type":"quantitative","scale":{"domain":[1849,2020],"nice":false,"zero":false},"axis":{"orient":"bottom","values":[1860,1880,1900,1920,1940,1960,1980,2000],"format":"d","title":null}},"y":{"field":"l","type":"quantitative","scale":{"domain":[-1.25,1.25],"nice":false,"zero":false},"axis":{"orient":"left","values":[-1,-0.5,0,0.5,1],"format":".1f","title":null}},"y2":{"field":"u"}}},
{"transform":[{"fold":["E","G","N","B","C"],"as":["s","v"]},{"filter":"datum.v != null"}],"mark":{"type":"line","strokeWidth":2,"clip":true},"encoding":{"x":{"field":"y","type":"quantitative","axis":{"orient":"bottom","values":[1860,1880,1900,1920,1940,1960,1980,2000],"format":"d","title":null}},"y":{"field":"v","type":"quantitative","axis":{"orient":"left","values":[-1,-0.5,0,0.5,1],"format":".1f","title":null}},"color":{"field":"s","type":"nominal","scale":{"domain":["E","G","N","B","C","H"],"range":["#9467bd","#d62728","#ff7f0e","#2ca02c","#1f77b4","#262626"]},"legend":null}}},
{"mark":{"type":"line","strokeWidth":2.5,"color":"#262626","clip":true},"encoding":{"x":{"field":"y","type":"quantitative","axis":{"orient":"bottom","values":[1860,1880,1900,1920,1940,1960,1980,2000],"format":"d","title":null}},"y":{"field":"H","type":"quantitative","axis":{"orient":"left","values":[-1,-0.5,0,0.5,1],"format":".1f","title":null}}}},
{"data":{"values":[{}]},"mark":{"type":"text","fontWeight":"bold"},"encoding":{"x":{"datum":1852.3,"type":"quantitative","axis":{"orient":"bottom","values":[1860,1880,1900,1920,1940,1960,1980,2000],"format":"d","title":null}},"y":{"datum":1.03,"type":"quantitative","axis":{"orient":"left","values":[-1,-0.5,0,0.5,1],"format":".1f","title":null}},"text":{"value":"(c)"}}},
{"data":{"values":[{}]},"mark":{"type":"text"},"encoding":{"x":{"datum":1864.1,"type":"quantitative","axis":{"orient":"bottom","values":[1860,1880,1900,1920,1940,1960,1980,2000],"format":"d","title":null}},"y":{"datum":1.03,"type":"quantitative","axis":{"orient":"left","values":[-1,-0.5,0,0.5,1],"format":".1f","title":null}},"text":{"value":"30S-0N"}}}
]},
{"width":578,"height":336,"data":{"name":"f"},"layer":[
{"mark":{"type":"area","clip":true},"encoding":{"x":{"field":"y","type":"quantitative","scale":{"domain":[1849,2020],"nice":false,"zero":false},"axis":{"orient":"bottom","values":[1860,1880,1900,1920,1940,1960,1980,2000,2020],"format":"d","title":null}},"y":{"field":"l","type":"quantitative","scale":{"domain":[-1.25,1.25],"nice":false,"zero":false},"axis":{"orient":"right","values":[-1,-0.5,0,0.5,1],"format":".1f","title":null}},"y2":{"field":"u"}}},
{"transform":[{"fold":["E","G","N","B","C"],"as":["s","v"]},{"filter":"datum.v != null"}],"mark":{"type":"line","strokeWidth":2,"clip":true},"encoding":{"x":{"field":"y","type":"quantitative","axis":{"orient":"bottom","values":[1860,1880,1900,1920,1940,1960,1980,2000,2020],"format":"d","title":null}},"y":{"field":"v","type":"quantitative","axis":{"orient":"right","values":[-1,-0.5,0,0.5,1],"format":".1f","title":null}},"color":{"field":"s","type":"nominal","scale":{"domain":["E","G","N","B","C","H"],"range":["#9467bd","#d62728","#ff7f0e","#2ca02c","#1f77b4","#262626"]},"legend":null}}},
{"mark":{"type":"line","strokeWidth":2.5,"color":"#262626","clip":true},"encoding":{"x":{"field":"y","type":"quantitative","axis":{"orient":"bottom","values":[1860,1880,1900,1920,1940,1960,1980,2000,2020],"format":"d","title":null}},"y":{"field":"H","type":"quantitative","axis":{"orient":"right","values":[-1,-0.5,0,0.5,1],"format":".1f","title":null}}}},
{"data":{"values":[{}]},"mark":{"type":"text","fontWeight":"bold"},"encoding":{"x":{"datum":1853.6,"type":"quantitative","axis":{"orient":"bottom","values":[1860,1880,1900,1920,1940,1960,1980,2000,2020],"format":"d","title":null}},"y":{"datum":1.03,"type":"quantitative","axis":{"orient":"right","values":[-1,-0.5,0,0.5,1],"format":".1f","title":null}},"text":{"value":"(f)"}}},
{"data":{"values":[{}]},"mark":{"type":"text"},"encoding":{"x":{"datum":1863.1,"type":"quantitative","axis":{"orient":"bottom","values":[1860,1880,1900,1920,1940,1960,1980,2000,2020],"format":"d","title":null}},"y":{"datum":1.03,"type":"quantitative","axis":{"orient":"right","values":[-1,-0.5,0,0.5,1],"format":".1f","title":null}},"text":{"value":"0N-30N"}}}
]}
]
}
